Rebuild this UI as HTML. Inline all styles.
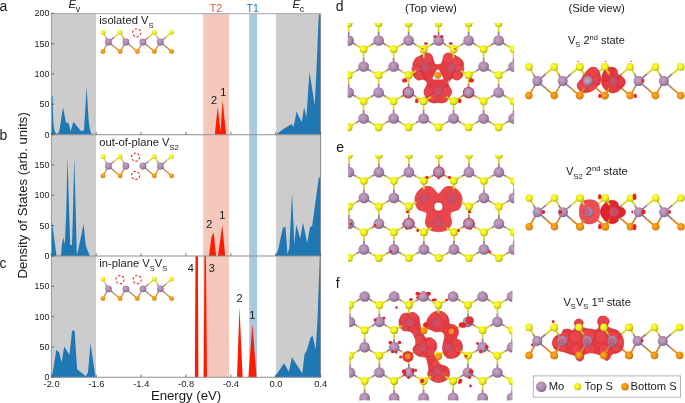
<!DOCTYPE html>
<html><head><meta charset="utf-8"><style>
html,body{margin:0;padding:0;background:#fff;width:685px;height:403px;overflow:hidden;position:relative}
svg text{font-family:"Liberation Sans", sans-serif}
svg{will-change:transform}
</style></head><body>
<svg width="685" height="403" viewBox="0 0 685 403" style="position:absolute;left:0;top:0">
<defs>
<radialGradient id="gMo" cx="0.42" cy="0.4" r="0.62"><stop offset="0" stop-color="#c6a2c4"/><stop offset="0.55" stop-color="#ae8aac"/><stop offset="0.82" stop-color="#987696"/><stop offset="0.93" stop-color="#806480"/><stop offset="1" stop-color="#664e66"/></radialGradient>
<radialGradient id="gS" cx="0.42" cy="0.4" r="0.62"><stop offset="0" stop-color="#ffff50"/><stop offset="0.5" stop-color="#f2f214"/><stop offset="0.8" stop-color="#d8d810"/><stop offset="1" stop-color="#9c9c1e"/></radialGradient>
<radialGradient id="gB" cx="0.42" cy="0.4" r="0.62"><stop offset="0" stop-color="#ffae30"/><stop offset="0.55" stop-color="#f09210"/><stop offset="0.85" stop-color="#dc840a"/><stop offset="1" stop-color="#aa6c10"/></radialGradient>
<radialGradient id="gR" cx="0.45" cy="0.4" r="0.65"><stop offset="0" stop-color="#f05a5a"/><stop offset="0.75" stop-color="#e43c40"/><stop offset="1" stop-color="#c42a30"/></radialGradient>
<clipPath id="cd"><rect x="347.7" y="22.9" width="166.4" height="108.6"/></clipPath>
<clipPath id="ce"><rect x="348.2" y="155.0" width="166.0" height="107.0"/></clipPath>
<clipPath id="cf"><rect x="349.3" y="291.0" width="163.0" height="109.2"/></clipPath>
</defs>
<rect width="685" height="403" fill="#fff"/>
<rect x="51.4" y="13.3" width="44.60" height="121.30" fill="#cccccc"/>
<rect x="276.0" y="13.3" width="44.60" height="121.30" fill="#cccccc"/>
<rect x="203.2" y="13.3" width="25.8" height="121.30" fill="#f4c8bc"/>
<rect x="249.2" y="13.3" width="7.9" height="121.30" fill="#a9cade"/>
<rect x="51.4" y="134.6" width="44.60" height="121.30" fill="#cccccc"/>
<rect x="276.0" y="134.6" width="44.60" height="121.30" fill="#cccccc"/>
<rect x="203.2" y="134.6" width="25.8" height="121.30" fill="#f4c8bc"/>
<rect x="249.2" y="134.6" width="7.9" height="121.30" fill="#a9cade"/>
<rect x="51.4" y="255.9" width="44.60" height="121.30" fill="#cccccc"/>
<rect x="276.0" y="255.9" width="44.60" height="121.30" fill="#cccccc"/>
<rect x="203.2" y="255.9" width="25.8" height="121.30" fill="#f4c8bc"/>
<rect x="249.2" y="255.9" width="7.9" height="121.30" fill="#a9cade"/>
<polygon points="51.4,134.6 51.4,94.5 52.6,96.0 52.9,110.0 53.4,123.7 54.5,130.9 56.3,133.8 58.0,133.6 59.3,130.9 60.5,123.7 62.3,111.8 63.2,107.8 64.2,113.4 66.1,123.0 68.0,122.4 69.3,125.0 70.6,131.4 73.4,121.7 81.2,131.2 84.0,130.2 86.6,86.8 88.7,121.0 89.7,128.8 91.8,134.6" fill="#1f77b4"/>
<polygon points="275.8,134.6 285.0,128.0 291.7,124.1 293.6,127.0 296.5,111.7 301.8,122.2 304.1,106.9 306.4,117.4 309.5,71.9 314.7,105.0 316.5,70.0 318.5,20.0 319.3,13.3 320.6,13.3 320.6,134.6" fill="#1f77b4"/>
<polygon points="214.8,134.6 217.7,106.9 220.5,131.6 222.6,100.2 226.1,134.6" fill="#ff1a00"/>
<polygon points="51.4,255.9 51.4,220.1 52.4,224.3 54.2,238.6 56.5,255.8 61.0,255.8 61.9,244.5 63.3,237.6 64.9,244.5 66.3,210.0 67.4,156.8 69.3,215.0 70.2,245.1 72.0,245.1 72.9,215.0 74.3,156.8 75.8,215.0 76.8,254.6 78.0,251.0 83.6,224.0 85.7,245.7 89.9,255.9" fill="#1f77b4"/>
<polygon points="275.7,255.9 278.4,248.6 282.7,228.5 285.4,226.3 287.5,254.1 289.3,248.6 292.1,192.9 294.3,244.2 296.3,224.6 300.2,238.8 303.0,222.4 307.2,243.1 310.0,227.2 312.2,225.7 318.8,177.6 320.6,177.6 320.6,255.9" fill="#1f77b4"/>
<polygon points="208.9,255.9 211.5,236.7 213.7,232.8 216.1,255.9" fill="#ff1a00"/>
<polygon points="218.0,255.9 222.3,225.2 225.2,255.9" fill="#ff1a00"/>
<polygon points="51.5,377.2 53.3,369.2 56.3,349.8 59.2,352.5 61.6,362.5 64.2,346.5 66.7,350.6 69.4,355.0 72.1,330.4 74.6,330.7 77.1,369.2 85.8,376.3 88.0,372.2 90.5,343.5 95.5,377.2" fill="#1f77b4"/>
<polygon points="274.7,377.2 276.2,375.0 284.1,363.2 288.9,371.8 291.9,357.2 302.3,373.6 304.5,354.2 306.7,350.5 310.5,337.6 312.7,336.1 315.7,349.8 317.5,320.0 319.8,255.9 320.6,255.9 320.6,377.2" fill="#1f77b4"/>
<polygon points="194.9,377.2 195.5,255.9 197.9,255.9 198.4,377.2" fill="#ff1a00"/>
<polygon points="203.7,377.2 204.5,255.9 205.9,255.9 207.0,377.2" fill="#ff1a00"/>
<polygon points="237.0,377.2 239.5,306.9 242.6,377.2" fill="#ff1a00"/>
<polygon points="248.4,377.2 252.4,323.8 256.5,377.2" fill="#ff1a00"/>
<path d="M51.4,134.6 V13.3" fill="none" stroke="#9a9a9a" stroke-width="1"/>
<path d="M320.6,134.6 V13.3" fill="none" stroke="#8a8a8a" stroke-width="1"/>
<path d="M50.9,13.6 H321.1" fill="none" stroke="#b4b4b4" stroke-width="1.1"/>
<line x1="50.9" y1="134.7" x2="321.1" y2="134.7" stroke="#8e8e8e" stroke-width="1.1"/>
<line x1="51.4" y1="134.60" x2="54.1" y2="134.60" stroke="#555" stroke-width="0.8"/>
<line x1="51.4" y1="104.27" x2="54.1" y2="104.27" stroke="#555" stroke-width="0.8"/>
<line x1="51.4" y1="73.95" x2="54.1" y2="73.95" stroke="#555" stroke-width="0.8"/>
<line x1="51.4" y1="43.62" x2="54.1" y2="43.62" stroke="#555" stroke-width="0.8"/>
<line x1="51.4" y1="13.30" x2="54.1" y2="13.30" stroke="#555" stroke-width="0.8"/>
<line x1="51.4" y1="134.6" x2="51.4" y2="131.9" stroke="#555" stroke-width="0.8"/>
<line x1="96.2" y1="134.6" x2="96.2" y2="131.9" stroke="#555" stroke-width="0.8"/>
<line x1="141.1" y1="134.6" x2="141.1" y2="131.9" stroke="#555" stroke-width="0.8"/>
<line x1="185.9" y1="134.6" x2="185.9" y2="131.9" stroke="#555" stroke-width="0.8"/>
<line x1="230.8" y1="134.6" x2="230.8" y2="131.9" stroke="#555" stroke-width="0.8"/>
<line x1="275.7" y1="134.6" x2="275.7" y2="131.9" stroke="#555" stroke-width="0.8"/>
<line x1="320.6" y1="134.6" x2="320.6" y2="131.9" stroke="#555" stroke-width="0.8"/>
<path d="M51.4,255.9 V134.6" fill="none" stroke="#9a9a9a" stroke-width="1"/>
<path d="M320.6,255.9 V134.6" fill="none" stroke="#8a8a8a" stroke-width="1"/>
<line x1="50.9" y1="256.0" x2="321.1" y2="256.0" stroke="#8e8e8e" stroke-width="1.1"/>
<line x1="51.4" y1="255.90" x2="54.1" y2="255.90" stroke="#555" stroke-width="0.8"/>
<line x1="51.4" y1="225.57" x2="54.1" y2="225.57" stroke="#555" stroke-width="0.8"/>
<line x1="51.4" y1="195.25" x2="54.1" y2="195.25" stroke="#555" stroke-width="0.8"/>
<line x1="51.4" y1="164.93" x2="54.1" y2="164.93" stroke="#555" stroke-width="0.8"/>
<line x1="51.4" y1="134.60" x2="54.1" y2="134.60" stroke="#555" stroke-width="0.8"/>
<line x1="51.4" y1="255.9" x2="51.4" y2="253.20000000000002" stroke="#555" stroke-width="0.8"/>
<line x1="96.2" y1="255.9" x2="96.2" y2="253.20000000000002" stroke="#555" stroke-width="0.8"/>
<line x1="141.1" y1="255.9" x2="141.1" y2="253.20000000000002" stroke="#555" stroke-width="0.8"/>
<line x1="185.9" y1="255.9" x2="185.9" y2="253.20000000000002" stroke="#555" stroke-width="0.8"/>
<line x1="230.8" y1="255.9" x2="230.8" y2="253.20000000000002" stroke="#555" stroke-width="0.8"/>
<line x1="275.7" y1="255.9" x2="275.7" y2="253.20000000000002" stroke="#555" stroke-width="0.8"/>
<line x1="320.6" y1="255.9" x2="320.6" y2="253.20000000000002" stroke="#555" stroke-width="0.8"/>
<path d="M51.4,377.2 V255.9" fill="none" stroke="#9a9a9a" stroke-width="1"/>
<path d="M320.6,377.2 V255.9" fill="none" stroke="#8a8a8a" stroke-width="1"/>
<line x1="50.9" y1="377.3" x2="321.1" y2="377.3" stroke="#8e8e8e" stroke-width="1.1"/>
<line x1="51.4" y1="377.20" x2="54.1" y2="377.20" stroke="#555" stroke-width="0.8"/>
<line x1="51.4" y1="346.88" x2="54.1" y2="346.88" stroke="#555" stroke-width="0.8"/>
<line x1="51.4" y1="316.55" x2="54.1" y2="316.55" stroke="#555" stroke-width="0.8"/>
<line x1="51.4" y1="286.23" x2="54.1" y2="286.23" stroke="#555" stroke-width="0.8"/>
<line x1="51.4" y1="255.90" x2="54.1" y2="255.90" stroke="#555" stroke-width="0.8"/>
<line x1="51.4" y1="377.2" x2="51.4" y2="374.5" stroke="#555" stroke-width="0.8"/>
<line x1="96.2" y1="377.2" x2="96.2" y2="374.5" stroke="#555" stroke-width="0.8"/>
<line x1="141.1" y1="377.2" x2="141.1" y2="374.5" stroke="#555" stroke-width="0.8"/>
<line x1="185.9" y1="377.2" x2="185.9" y2="374.5" stroke="#555" stroke-width="0.8"/>
<line x1="230.8" y1="377.2" x2="230.8" y2="374.5" stroke="#555" stroke-width="0.8"/>
<line x1="275.7" y1="377.2" x2="275.7" y2="374.5" stroke="#555" stroke-width="0.8"/>
<line x1="320.6" y1="377.2" x2="320.6" y2="374.5" stroke="#555" stroke-width="0.8"/>
<text x="49.4" y="137.60" font-size="9.8" text-anchor="end" fill="#1a1a1a"  textLength="4.96" lengthAdjust="spacingAndGlyphs">0</text>
<text x="49.4" y="107.27" font-size="9.8" text-anchor="end" fill="#1a1a1a"  textLength="9.92" lengthAdjust="spacingAndGlyphs">50</text>
<text x="49.4" y="76.95" font-size="9.8" text-anchor="end" fill="#1a1a1a"  textLength="14.88" lengthAdjust="spacingAndGlyphs">100</text>
<text x="49.4" y="46.62" font-size="9.8" text-anchor="end" fill="#1a1a1a"  textLength="14.88" lengthAdjust="spacingAndGlyphs">150</text>
<text x="49.4" y="16.30" font-size="9.8" text-anchor="end" fill="#1a1a1a"  textLength="14.88" lengthAdjust="spacingAndGlyphs">200</text>
<text x="49.4" y="258.90" font-size="9.8" text-anchor="end" fill="#1a1a1a"  textLength="4.96" lengthAdjust="spacingAndGlyphs">0</text>
<text x="49.4" y="228.57" font-size="9.8" text-anchor="end" fill="#1a1a1a"  textLength="9.92" lengthAdjust="spacingAndGlyphs">50</text>
<text x="49.4" y="198.25" font-size="9.8" text-anchor="end" fill="#1a1a1a"  textLength="14.88" lengthAdjust="spacingAndGlyphs">100</text>
<text x="49.4" y="167.93" font-size="9.8" text-anchor="end" fill="#1a1a1a"  textLength="14.88" lengthAdjust="spacingAndGlyphs">150</text>
<text x="49.4" y="380.20" font-size="9.8" text-anchor="end" fill="#1a1a1a"  textLength="4.96" lengthAdjust="spacingAndGlyphs">0</text>
<text x="49.4" y="349.88" font-size="9.8" text-anchor="end" fill="#1a1a1a"  textLength="9.92" lengthAdjust="spacingAndGlyphs">50</text>
<text x="49.4" y="319.55" font-size="9.8" text-anchor="end" fill="#1a1a1a"  textLength="14.88" lengthAdjust="spacingAndGlyphs">100</text>
<text x="49.4" y="289.23" font-size="9.8" text-anchor="end" fill="#1a1a1a"  textLength="14.88" lengthAdjust="spacingAndGlyphs">150</text>
<text x="51.6" y="386.5" font-size="9.4" text-anchor="middle" fill="#1a1a1a" >-2.0</text>
<text x="96.4" y="386.5" font-size="9.4" text-anchor="middle" fill="#1a1a1a" >-1.6</text>
<text x="141.3" y="386.5" font-size="9.4" text-anchor="middle" fill="#1a1a1a" >-1.4</text>
<text x="186.1" y="386.5" font-size="9.4" text-anchor="middle" fill="#1a1a1a" >-0.8</text>
<text x="231.0" y="386.5" font-size="9.4" text-anchor="middle" fill="#1a1a1a" >-0.4</text>
<text x="275.9" y="386.5" font-size="9.4" text-anchor="middle" fill="#1a1a1a" >0.0</text>
<text x="320.8" y="386.5" font-size="9.4" text-anchor="middle" fill="#1a1a1a" >0.4</text>
<text x="150.9" y="399.7" font-size="13.2" text-anchor="start" fill="#1a1a1a" >Energy (eV)</text>
<text transform="translate(27.3,278.6) rotate(-90)" font-size="13.2" fill="#1a1a1a">Density of States (arb. units)</text>
<text x="-0.6" y="11" font-size="14" text-anchor="start" fill="#1a1a1a" >a</text>
<text x="-0.6" y="139.9" font-size="14" text-anchor="start" fill="#1a1a1a" >b</text>
<text x="-0.4" y="268" font-size="14" text-anchor="start" fill="#1a1a1a" >c</text>
<text x="335.8" y="10.7" font-size="14" text-anchor="start" fill="#1a1a1a" >d</text>
<text x="336.3" y="151.5" font-size="14" text-anchor="start" fill="#1a1a1a" >e</text>
<text x="335.8" y="287.9" font-size="14" text-anchor="start" fill="#1a1a1a" >f</text>
<text x="68.6" y="8.3" font-size="11.5" font-style="italic" fill="#1a1a1a">E</text>
<text x="75.8" y="11.7" font-size="8.8" fill="#1a1a1a">v</text>
<text x="292.6" y="8.3" font-size="11.5" font-style="italic" fill="#1a1a1a">E</text>
<text x="299.7" y="11.9" font-size="9" fill="#1a1a1a">c</text>
<text x="216.0" y="11.7" font-size="10.6" text-anchor="middle" fill="#e05a34" >T2</text>
<text x="252.6" y="11.7" font-size="10.6" text-anchor="middle" fill="#1f78b4" >T1</text>
<text x="214.1" y="104.3" font-size="11" text-anchor="middle" fill="#1a1a1a" >2</text>
<text x="223.3" y="95.8" font-size="11" text-anchor="middle" fill="#1a1a1a" >1</text>
<text x="209.3" y="228.1" font-size="11" text-anchor="middle" fill="#1a1a1a" >2</text>
<text x="222.3" y="219.4" font-size="11" text-anchor="middle" fill="#1a1a1a" >1</text>
<text x="190.9" y="272.1" font-size="11" text-anchor="middle" fill="#1a1a1a" >4</text>
<text x="211.8" y="272.1" font-size="11" text-anchor="middle" fill="#1a1a1a" >3</text>
<text x="239.5" y="301.5" font-size="11" text-anchor="middle" fill="#1a1a1a" >2</text>
<text x="252.4" y="319.2" font-size="11" text-anchor="middle" fill="#1a1a1a" >1</text>
<text x="99.3" y="23.8" font-size="11.2" fill="#1a1a1a">isolated V<tspan font-size="7.6" dy="3.8">S</tspan></text>
<text x="99.25" y="146" font-size="11.2" fill="#1a1a1a">out-of-plane V<tspan font-size="7.6" dy="3.8">S2</tspan></text>
<text x="99.3" y="267" font-size="11.2" fill="#1a1a1a">in-plane V<tspan font-size="7.6" dy="3.8">S</tspan><tspan dy="-3.8">V</tspan><tspan font-size="7.6" dy="3.8">S</tspan></text>
<line x1="108.40" y1="42.00" x2="105.65" y2="37.15" stroke="#9e7e9e" stroke-width="1.3"/>
<line x1="105.65" y1="37.15" x2="102.90" y2="32.30" stroke="#d8d816" stroke-width="1.3"/>
<line x1="108.40" y1="42.00" x2="105.65" y2="46.80" stroke="#9e7e9e" stroke-width="1.3"/>
<line x1="105.65" y1="46.80" x2="102.90" y2="51.60" stroke="#dc8c10" stroke-width="1.3"/>
<line x1="108.40" y1="42.00" x2="114.25" y2="37.15" stroke="#9e7e9e" stroke-width="1.3"/>
<line x1="114.25" y1="37.15" x2="120.10" y2="32.30" stroke="#d8d816" stroke-width="1.3"/>
<line x1="108.40" y1="42.00" x2="114.25" y2="46.80" stroke="#9e7e9e" stroke-width="1.3"/>
<line x1="114.25" y1="46.80" x2="120.10" y2="51.60" stroke="#dc8c10" stroke-width="1.3"/>
<line x1="125.90" y1="42.00" x2="123.00" y2="37.15" stroke="#9e7e9e" stroke-width="1.3"/>
<line x1="123.00" y1="37.15" x2="120.10" y2="32.30" stroke="#d8d816" stroke-width="1.3"/>
<line x1="125.90" y1="42.00" x2="123.00" y2="46.80" stroke="#9e7e9e" stroke-width="1.3"/>
<line x1="123.00" y1="46.80" x2="120.10" y2="51.60" stroke="#dc8c10" stroke-width="1.3"/>
<line x1="125.90" y1="42.00" x2="131.60" y2="46.80" stroke="#9e7e9e" stroke-width="1.3"/>
<line x1="131.60" y1="46.80" x2="137.30" y2="51.60" stroke="#dc8c10" stroke-width="1.3"/>
<line x1="142.90" y1="42.00" x2="140.10" y2="46.80" stroke="#9e7e9e" stroke-width="1.3"/>
<line x1="140.10" y1="46.80" x2="137.30" y2="51.60" stroke="#dc8c10" stroke-width="1.3"/>
<line x1="142.90" y1="42.00" x2="148.65" y2="37.15" stroke="#9e7e9e" stroke-width="1.3"/>
<line x1="148.65" y1="37.15" x2="154.40" y2="32.30" stroke="#d8d816" stroke-width="1.3"/>
<line x1="142.90" y1="42.00" x2="148.65" y2="46.80" stroke="#9e7e9e" stroke-width="1.3"/>
<line x1="148.65" y1="46.80" x2="154.40" y2="51.60" stroke="#dc8c10" stroke-width="1.3"/>
<line x1="160.30" y1="42.00" x2="157.35" y2="37.15" stroke="#9e7e9e" stroke-width="1.3"/>
<line x1="157.35" y1="37.15" x2="154.40" y2="32.30" stroke="#d8d816" stroke-width="1.3"/>
<line x1="160.30" y1="42.00" x2="157.35" y2="46.80" stroke="#9e7e9e" stroke-width="1.3"/>
<line x1="157.35" y1="46.80" x2="154.40" y2="51.60" stroke="#dc8c10" stroke-width="1.3"/>
<line x1="160.30" y1="42.00" x2="165.95" y2="37.15" stroke="#9e7e9e" stroke-width="1.3"/>
<line x1="165.95" y1="37.15" x2="171.60" y2="32.30" stroke="#d8d816" stroke-width="1.3"/>
<line x1="160.30" y1="42.00" x2="165.95" y2="46.80" stroke="#9e7e9e" stroke-width="1.3"/>
<line x1="165.95" y1="46.80" x2="171.60" y2="51.60" stroke="#dc8c10" stroke-width="1.3"/>
<circle cx="102.9" cy="32.3" r="2.4" fill="url(#gS)"/>
<circle cx="102.9" cy="51.6" r="2.4" fill="url(#gB)"/>
<circle cx="120.1" cy="32.3" r="2.4" fill="url(#gS)"/>
<circle cx="120.1" cy="51.6" r="2.4" fill="url(#gB)"/>
<circle cx="137.3" cy="51.6" r="2.4" fill="url(#gB)"/>
<circle cx="154.4" cy="32.3" r="2.4" fill="url(#gS)"/>
<circle cx="154.4" cy="51.6" r="2.4" fill="url(#gB)"/>
<circle cx="171.6" cy="32.3" r="2.4" fill="url(#gS)"/>
<circle cx="171.6" cy="51.6" r="2.4" fill="url(#gB)"/>
<circle cx="108.4" cy="42.0" r="3.4" fill="url(#gMo)"/>
<circle cx="125.9" cy="42.0" r="3.4" fill="url(#gMo)"/>
<circle cx="142.9" cy="42.0" r="3.4" fill="url(#gMo)"/>
<circle cx="160.3" cy="42.0" r="3.4" fill="url(#gMo)"/>
<circle cx="136.80" cy="32.80" r="4.1" fill="none" stroke="#f02020" stroke-width="1.1" stroke-dasharray="2.3,1.9"/>
<line x1="108.40" y1="166.00" x2="105.65" y2="161.30" stroke="#9e7e9e" stroke-width="1.3"/>
<line x1="105.65" y1="161.30" x2="102.90" y2="156.60" stroke="#d8d816" stroke-width="1.3"/>
<line x1="108.40" y1="166.00" x2="105.65" y2="170.95" stroke="#9e7e9e" stroke-width="1.3"/>
<line x1="105.65" y1="170.95" x2="102.90" y2="175.90" stroke="#dc8c10" stroke-width="1.3"/>
<line x1="108.40" y1="166.00" x2="114.25" y2="161.30" stroke="#9e7e9e" stroke-width="1.3"/>
<line x1="114.25" y1="161.30" x2="120.10" y2="156.60" stroke="#d8d816" stroke-width="1.3"/>
<line x1="108.40" y1="166.00" x2="114.25" y2="170.95" stroke="#9e7e9e" stroke-width="1.3"/>
<line x1="114.25" y1="170.95" x2="120.10" y2="175.90" stroke="#dc8c10" stroke-width="1.3"/>
<line x1="125.90" y1="166.00" x2="123.00" y2="161.30" stroke="#9e7e9e" stroke-width="1.3"/>
<line x1="123.00" y1="161.30" x2="120.10" y2="156.60" stroke="#d8d816" stroke-width="1.3"/>
<line x1="125.90" y1="166.00" x2="123.00" y2="170.95" stroke="#9e7e9e" stroke-width="1.3"/>
<line x1="123.00" y1="170.95" x2="120.10" y2="175.90" stroke="#dc8c10" stroke-width="1.3"/>
<line x1="142.90" y1="166.00" x2="148.65" y2="161.30" stroke="#9e7e9e" stroke-width="1.3"/>
<line x1="148.65" y1="161.30" x2="154.40" y2="156.60" stroke="#d8d816" stroke-width="1.3"/>
<line x1="142.90" y1="166.00" x2="148.65" y2="170.95" stroke="#9e7e9e" stroke-width="1.3"/>
<line x1="148.65" y1="170.95" x2="154.40" y2="175.90" stroke="#dc8c10" stroke-width="1.3"/>
<line x1="160.30" y1="166.00" x2="157.35" y2="161.30" stroke="#9e7e9e" stroke-width="1.3"/>
<line x1="157.35" y1="161.30" x2="154.40" y2="156.60" stroke="#d8d816" stroke-width="1.3"/>
<line x1="160.30" y1="166.00" x2="157.35" y2="170.95" stroke="#9e7e9e" stroke-width="1.3"/>
<line x1="157.35" y1="170.95" x2="154.40" y2="175.90" stroke="#dc8c10" stroke-width="1.3"/>
<line x1="160.30" y1="166.00" x2="165.95" y2="161.30" stroke="#9e7e9e" stroke-width="1.3"/>
<line x1="165.95" y1="161.30" x2="171.60" y2="156.60" stroke="#d8d816" stroke-width="1.3"/>
<line x1="160.30" y1="166.00" x2="165.95" y2="170.95" stroke="#9e7e9e" stroke-width="1.3"/>
<line x1="165.95" y1="170.95" x2="171.60" y2="175.90" stroke="#dc8c10" stroke-width="1.3"/>
<circle cx="102.9" cy="156.6" r="2.4" fill="url(#gS)"/>
<circle cx="102.9" cy="175.9" r="2.4" fill="url(#gB)"/>
<circle cx="120.1" cy="156.6" r="2.4" fill="url(#gS)"/>
<circle cx="120.1" cy="175.9" r="2.4" fill="url(#gB)"/>
<circle cx="154.4" cy="156.6" r="2.4" fill="url(#gS)"/>
<circle cx="154.4" cy="175.9" r="2.4" fill="url(#gB)"/>
<circle cx="171.6" cy="156.6" r="2.4" fill="url(#gS)"/>
<circle cx="171.6" cy="175.9" r="2.4" fill="url(#gB)"/>
<circle cx="108.4" cy="166.0" r="3.4" fill="url(#gMo)"/>
<circle cx="125.9" cy="166.0" r="3.4" fill="url(#gMo)"/>
<circle cx="142.9" cy="166.0" r="3.4" fill="url(#gMo)"/>
<circle cx="160.3" cy="166.0" r="3.4" fill="url(#gMo)"/>
<circle cx="135.60" cy="157.10" r="4.1" fill="none" stroke="#f02020" stroke-width="1.1" stroke-dasharray="2.3,1.9"/>
<circle cx="135.60" cy="175.40" r="4.1" fill="none" stroke="#f02020" stroke-width="1.1" stroke-dasharray="2.3,1.9"/>
<line x1="108.40" y1="288.80" x2="105.65" y2="283.95" stroke="#9e7e9e" stroke-width="1.3"/>
<line x1="105.65" y1="283.95" x2="102.90" y2="279.10" stroke="#d8d816" stroke-width="1.3"/>
<line x1="108.40" y1="288.80" x2="105.65" y2="293.70" stroke="#9e7e9e" stroke-width="1.3"/>
<line x1="105.65" y1="293.70" x2="102.90" y2="298.60" stroke="#dc8c10" stroke-width="1.3"/>
<line x1="108.40" y1="288.80" x2="114.25" y2="293.70" stroke="#9e7e9e" stroke-width="1.3"/>
<line x1="114.25" y1="293.70" x2="120.10" y2="298.60" stroke="#dc8c10" stroke-width="1.3"/>
<line x1="125.90" y1="288.80" x2="123.00" y2="293.70" stroke="#9e7e9e" stroke-width="1.3"/>
<line x1="123.00" y1="293.70" x2="120.10" y2="298.60" stroke="#dc8c10" stroke-width="1.3"/>
<line x1="125.90" y1="288.80" x2="131.60" y2="293.70" stroke="#9e7e9e" stroke-width="1.3"/>
<line x1="131.60" y1="293.70" x2="137.30" y2="298.60" stroke="#dc8c10" stroke-width="1.3"/>
<line x1="142.90" y1="288.80" x2="140.10" y2="293.70" stroke="#9e7e9e" stroke-width="1.3"/>
<line x1="140.10" y1="293.70" x2="137.30" y2="298.60" stroke="#dc8c10" stroke-width="1.3"/>
<line x1="142.90" y1="288.80" x2="148.65" y2="283.95" stroke="#9e7e9e" stroke-width="1.3"/>
<line x1="148.65" y1="283.95" x2="154.40" y2="279.10" stroke="#d8d816" stroke-width="1.3"/>
<line x1="142.90" y1="288.80" x2="148.65" y2="293.70" stroke="#9e7e9e" stroke-width="1.3"/>
<line x1="148.65" y1="293.70" x2="154.40" y2="298.60" stroke="#dc8c10" stroke-width="1.3"/>
<line x1="160.30" y1="288.80" x2="157.35" y2="283.95" stroke="#9e7e9e" stroke-width="1.3"/>
<line x1="157.35" y1="283.95" x2="154.40" y2="279.10" stroke="#d8d816" stroke-width="1.3"/>
<line x1="160.30" y1="288.80" x2="157.35" y2="293.70" stroke="#9e7e9e" stroke-width="1.3"/>
<line x1="157.35" y1="293.70" x2="154.40" y2="298.60" stroke="#dc8c10" stroke-width="1.3"/>
<line x1="160.30" y1="288.80" x2="165.95" y2="283.95" stroke="#9e7e9e" stroke-width="1.3"/>
<line x1="165.95" y1="283.95" x2="171.60" y2="279.10" stroke="#d8d816" stroke-width="1.3"/>
<line x1="160.30" y1="288.80" x2="165.95" y2="293.70" stroke="#9e7e9e" stroke-width="1.3"/>
<line x1="165.95" y1="293.70" x2="171.60" y2="298.60" stroke="#dc8c10" stroke-width="1.3"/>
<circle cx="102.9" cy="279.1" r="2.4" fill="url(#gS)"/>
<circle cx="102.9" cy="298.6" r="2.4" fill="url(#gB)"/>
<circle cx="120.1" cy="298.6" r="2.4" fill="url(#gB)"/>
<circle cx="137.3" cy="298.6" r="2.4" fill="url(#gB)"/>
<circle cx="154.4" cy="279.1" r="2.4" fill="url(#gS)"/>
<circle cx="154.4" cy="298.6" r="2.4" fill="url(#gB)"/>
<circle cx="171.6" cy="279.1" r="2.4" fill="url(#gS)"/>
<circle cx="171.6" cy="298.6" r="2.4" fill="url(#gB)"/>
<circle cx="108.4" cy="288.8" r="3.4" fill="url(#gMo)"/>
<circle cx="125.9" cy="288.8" r="3.4" fill="url(#gMo)"/>
<circle cx="142.9" cy="288.8" r="3.4" fill="url(#gMo)"/>
<circle cx="160.3" cy="288.8" r="3.4" fill="url(#gMo)"/>
<circle cx="120.00" cy="279.60" r="4.1" fill="none" stroke="#f02020" stroke-width="1.1" stroke-dasharray="2.3,1.9"/>
<circle cx="137.20" cy="279.60" r="4.1" fill="none" stroke="#f02020" stroke-width="1.1" stroke-dasharray="2.3,1.9"/>
<g clip-path="url(#cd)">
<path d="M333.6 14.6L341.1 18.9M363.6 14.6L356.1 18.9M363.6 14.6L371.1 18.9M393.6 14.6L386.1 18.9M393.6 14.6L401.1 18.9M423.6 14.6L416.1 18.9M423.6 14.6L431.1 18.9M453.6 14.6L446.1 18.9M453.6 14.6L461.1 18.9M483.6 14.6L476.1 18.9M483.6 14.6L491.1 18.9M513.6 14.6L506.1 18.9M333.6 66.5L341.1 70.9M348.6 40.5L348.6 31.9M348.6 40.5L341.1 44.9M348.6 40.5L356.1 44.9M363.6 66.5L363.6 57.9M363.6 66.5L356.1 70.9M363.6 66.5L371.1 70.9M378.6 40.5L378.6 31.9M378.6 40.5L371.1 44.9M378.6 40.5L386.1 44.9M393.6 66.5L393.6 57.9M393.6 66.5L386.1 70.9M393.6 66.5L401.1 70.9M408.6 40.5L408.6 31.9M408.6 40.5L401.1 44.9M408.6 40.5L416.1 44.9M423.6 66.5L423.6 57.9M423.6 66.5L416.1 70.9M438.6 40.5L438.6 31.9M438.6 40.5L431.1 44.9M438.6 40.5L446.1 44.9M453.6 66.5L453.6 57.9M453.6 66.5L461.1 70.9M468.6 40.5L468.6 31.9M468.6 40.5L461.1 44.9M468.6 40.5L476.1 44.9M483.6 66.5L483.6 57.9M483.6 66.5L476.1 70.9M483.6 66.5L491.1 70.9M498.6 40.5L498.6 31.9M498.6 40.5L491.1 44.9M498.6 40.5L506.1 44.9M513.6 66.5L513.6 57.9M513.6 66.5L506.1 70.9M513.6 66.5L521.1 70.9M528.6 40.5L521.1 44.9M333.6 118.5L341.1 122.8M348.6 92.5L348.6 83.8M348.6 92.5L341.1 96.8M348.6 92.5L356.1 96.8M363.6 118.5L363.6 109.8M363.6 118.5L356.1 122.8M363.6 118.5L371.1 122.8M378.6 92.5L378.6 83.8M378.6 92.5L371.1 96.8M378.6 92.5L386.1 96.8M393.6 118.5L393.6 109.8M393.6 118.5L386.1 122.8M393.6 118.5L401.1 122.8M408.6 92.5L408.6 83.8M408.6 92.5L401.1 96.8M408.6 92.5L416.1 96.8M423.6 118.5L423.6 109.8M423.6 118.5L416.1 122.8M423.6 118.5L431.1 122.8M438.6 92.5L431.1 96.8M438.6 92.5L446.1 96.8M453.6 118.5L453.6 109.8M453.6 118.5L446.1 122.8M453.6 118.5L461.1 122.8M468.6 92.5L468.6 83.8M468.6 92.5L461.1 96.8M468.6 92.5L476.1 96.8M483.6 118.5L483.6 109.8M483.6 118.5L476.1 122.8M483.6 118.5L491.1 122.8M498.6 92.5L498.6 83.8M498.6 92.5L491.1 96.8M498.6 92.5L506.1 96.8M513.6 118.5L513.6 109.8M513.6 118.5L506.1 122.8M513.6 118.5L521.1 122.8M528.6 92.5L521.1 96.8M348.6 144.5L348.6 135.8M378.6 144.5L378.6 135.8M408.6 144.5L408.6 135.8M438.6 144.5L438.6 135.8M468.6 144.5L468.6 135.8M498.6 144.5L498.6 135.8" stroke="#9e7e9e" stroke-width="1.75" fill="none"/>
<path d="M341.1 18.9L348.6 23.2M356.1 18.9L348.6 23.2M371.1 18.9L378.6 23.2M386.1 18.9L378.6 23.2M401.1 18.9L408.6 23.2M416.1 18.9L408.6 23.2M431.1 18.9L438.6 23.2M446.1 18.9L438.6 23.2M461.1 18.9L468.6 23.2M476.1 18.9L468.6 23.2M491.1 18.9L498.6 23.2M506.1 18.9L498.6 23.2M341.1 70.9L348.6 75.2M348.6 31.9L348.6 23.2M341.1 44.9L333.6 49.2M356.1 44.9L363.6 49.2M363.6 57.9L363.6 49.2M356.1 70.9L348.6 75.2M371.1 70.9L378.6 75.2M378.6 31.9L378.6 23.2M371.1 44.9L363.6 49.2M386.1 44.9L393.6 49.2M393.6 57.9L393.6 49.2M386.1 70.9L378.6 75.2M401.1 70.9L408.6 75.2M408.6 31.9L408.6 23.2M401.1 44.9L393.6 49.2M416.1 44.9L423.6 49.2M423.6 57.9L423.6 49.2M416.1 70.9L408.6 75.2M438.6 31.9L438.6 23.2M431.1 44.9L423.6 49.2M446.1 44.9L453.6 49.2M453.6 57.9L453.6 49.2M461.1 70.9L468.6 75.2M468.6 31.9L468.6 23.2M461.1 44.9L453.6 49.2M476.1 44.9L483.6 49.2M483.6 57.9L483.6 49.2M476.1 70.9L468.6 75.2M491.1 70.9L498.6 75.2M498.6 31.9L498.6 23.2M491.1 44.9L483.6 49.2M506.1 44.9L513.6 49.2M513.6 57.9L513.6 49.2M506.1 70.9L498.6 75.2M521.1 70.9L528.6 75.2M521.1 44.9L513.6 49.2M341.1 122.8L348.6 127.2M348.6 83.8L348.6 75.2M341.1 96.8L333.6 101.2M356.1 96.8L363.6 101.2M363.6 109.8L363.6 101.2M356.1 122.8L348.6 127.2M371.1 122.8L378.6 127.2M378.6 83.8L378.6 75.2M371.1 96.8L363.6 101.2M386.1 96.8L393.6 101.2M393.6 109.8L393.6 101.2M386.1 122.8L378.6 127.2M401.1 122.8L408.6 127.2M408.6 83.8L408.6 75.2M401.1 96.8L393.6 101.2M416.1 96.8L423.6 101.2M423.6 109.8L423.6 101.2M416.1 122.8L408.6 127.2M431.1 122.8L438.6 127.2M431.1 96.8L423.6 101.2M446.1 96.8L453.6 101.2M453.6 109.8L453.6 101.2M446.1 122.8L438.6 127.2M461.1 122.8L468.6 127.2M468.6 83.8L468.6 75.2M461.1 96.8L453.6 101.2M476.1 96.8L483.6 101.2M483.6 109.8L483.6 101.2M476.1 122.8L468.6 127.2M491.1 122.8L498.6 127.2M498.6 83.8L498.6 75.2M491.1 96.8L483.6 101.2M506.1 96.8L513.6 101.2M513.6 109.8L513.6 101.2M506.1 122.8L498.6 127.2M521.1 122.8L528.6 127.2M521.1 96.8L513.6 101.2M348.6 135.8L348.6 127.2M378.6 135.8L378.6 127.2M408.6 135.8L408.6 127.2M438.6 135.8L438.6 127.2M468.6 135.8L468.6 127.2M498.6 135.8L498.6 127.2" stroke="#d8d816" stroke-width="1.75" fill="none"/>
<circle cx="498.6" cy="23.2" r="3.9" fill="url(#gS)"/>
<circle cx="408.6" cy="127.2" r="3.9" fill="url(#gS)"/>
<circle cx="498.6" cy="127.2" r="3.9" fill="url(#gS)"/>
<circle cx="483.6" cy="101.2" r="3.9" fill="url(#gS)"/>
<circle cx="408.6" cy="75.2" r="3.9" fill="url(#gS)"/>
<circle cx="348.6" cy="23.2" r="3.9" fill="url(#gS)"/>
<circle cx="438.6" cy="23.2" r="3.9" fill="url(#gS)"/>
<circle cx="423.6" cy="49.2" r="3.9" fill="url(#gS)"/>
<circle cx="498.6" cy="75.2" r="3.9" fill="url(#gS)"/>
<circle cx="513.6" cy="49.2" r="3.9" fill="url(#gS)"/>
<circle cx="348.6" cy="127.2" r="3.9" fill="url(#gS)"/>
<circle cx="438.6" cy="127.2" r="3.9" fill="url(#gS)"/>
<circle cx="423.6" cy="101.2" r="3.9" fill="url(#gS)"/>
<circle cx="513.6" cy="101.2" r="3.9" fill="url(#gS)"/>
<circle cx="363.6" cy="49.2" r="3.9" fill="url(#gS)"/>
<circle cx="363.6" cy="101.2" r="3.9" fill="url(#gS)"/>
<circle cx="348.6" cy="75.2" r="3.9" fill="url(#gS)"/>
<circle cx="453.6" cy="49.2" r="3.9" fill="url(#gS)"/>
<circle cx="378.6" cy="23.2" r="3.9" fill="url(#gS)"/>
<circle cx="453.6" cy="101.2" r="3.9" fill="url(#gS)"/>
<circle cx="468.6" cy="23.2" r="3.9" fill="url(#gS)"/>
<circle cx="378.6" cy="127.2" r="3.9" fill="url(#gS)"/>
<circle cx="468.6" cy="127.2" r="3.9" fill="url(#gS)"/>
<circle cx="393.6" cy="49.2" r="3.9" fill="url(#gS)"/>
<circle cx="393.6" cy="101.2" r="3.9" fill="url(#gS)"/>
<circle cx="408.6" cy="23.2" r="3.9" fill="url(#gS)"/>
<circle cx="378.6" cy="75.2" r="3.9" fill="url(#gS)"/>
<circle cx="468.6" cy="75.2" r="3.9" fill="url(#gS)"/>
<circle cx="483.6" cy="49.2" r="3.9" fill="url(#gS)"/>
<circle cx="348.6" cy="40.5" r="5.35" fill="url(#gMo)"/>
<circle cx="363.6" cy="66.5" r="5.35" fill="url(#gMo)"/>
<circle cx="378.6" cy="40.5" r="5.35" fill="url(#gMo)"/>
<circle cx="393.6" cy="66.5" r="5.35" fill="url(#gMo)"/>
<circle cx="408.6" cy="40.5" r="5.35" fill="url(#gMo)"/>
<circle cx="423.6" cy="66.5" r="5.35" fill="url(#gMo)"/>
<circle cx="438.6" cy="40.5" r="5.35" fill="url(#gMo)"/>
<circle cx="453.6" cy="66.5" r="5.35" fill="url(#gMo)"/>
<circle cx="468.6" cy="40.5" r="5.35" fill="url(#gMo)"/>
<circle cx="483.6" cy="66.5" r="5.35" fill="url(#gMo)"/>
<circle cx="498.6" cy="40.5" r="5.35" fill="url(#gMo)"/>
<circle cx="513.6" cy="66.5" r="5.35" fill="url(#gMo)"/>
<circle cx="348.6" cy="92.5" r="5.35" fill="url(#gMo)"/>
<circle cx="363.6" cy="118.5" r="5.35" fill="url(#gMo)"/>
<circle cx="378.6" cy="92.5" r="5.35" fill="url(#gMo)"/>
<circle cx="393.6" cy="118.5" r="5.35" fill="url(#gMo)"/>
<circle cx="408.6" cy="92.5" r="5.35" fill="url(#gMo)"/>
<circle cx="423.6" cy="118.5" r="5.35" fill="url(#gMo)"/>
<circle cx="438.6" cy="92.5" r="5.35" fill="url(#gMo)"/>
<circle cx="453.6" cy="118.5" r="5.35" fill="url(#gMo)"/>
<circle cx="468.6" cy="92.5" r="5.35" fill="url(#gMo)"/>
<circle cx="483.6" cy="118.5" r="5.35" fill="url(#gMo)"/>
<circle cx="498.6" cy="92.5" r="5.35" fill="url(#gMo)"/>
<circle cx="513.6" cy="118.5" r="5.35" fill="url(#gMo)"/>
</g>
<g clip-path="url(#ce)">
<path d="M333.9 146.5L341.4 150.8M363.9 146.5L356.4 150.8M363.9 146.5L371.4 150.8M393.9 146.5L386.4 150.8M393.9 146.5L401.4 150.8M423.9 146.5L416.4 150.8M423.9 146.5L431.4 150.8M453.9 146.5L446.4 150.8M453.9 146.5L461.4 150.8M483.9 146.5L476.4 150.8M483.9 146.5L491.4 150.8M513.9 146.5L506.4 150.8M333.9 197.9L341.4 202.2M348.9 172.2L348.9 163.6M348.9 172.2L341.4 176.5M348.9 172.2L356.4 176.5M363.9 197.9L363.9 189.3M363.9 197.9L356.4 202.2M363.9 197.9L371.4 202.2M378.9 172.2L378.9 163.6M378.9 172.2L371.4 176.5M378.9 172.2L386.4 176.5M393.9 197.9L393.9 189.3M393.9 197.9L386.4 202.2M393.9 197.9L401.4 202.2M408.9 172.2L408.9 163.6M408.9 172.2L401.4 176.5M408.9 172.2L416.4 176.5M423.9 197.9L423.9 189.3M423.9 197.9L416.4 202.2M438.9 172.2L438.9 163.6M438.9 172.2L431.4 176.5M438.9 172.2L446.4 176.5M453.9 197.9L453.9 189.3M453.9 197.9L461.4 202.2M468.9 172.2L468.9 163.6M468.9 172.2L461.4 176.5M468.9 172.2L476.4 176.5M483.9 197.9L483.9 189.3M483.9 197.9L476.4 202.2M483.9 197.9L491.4 202.2M498.9 172.2L498.9 163.6M498.9 172.2L491.4 176.5M498.9 172.2L506.4 176.5M513.9 197.9L513.9 189.3M513.9 197.9L506.4 202.2M513.9 197.9L521.4 202.2M528.9 172.2L521.4 176.5M333.9 249.4L341.4 253.7M348.9 223.6L348.9 215.1M348.9 223.6L341.4 227.9M348.9 223.6L356.4 227.9M363.9 249.4L363.9 240.8M363.9 249.4L356.4 253.7M363.9 249.4L371.4 253.7M378.9 223.6L378.9 215.1M378.9 223.6L371.4 227.9M378.9 223.6L386.4 227.9M393.9 249.4L393.9 240.8M393.9 249.4L386.4 253.7M393.9 249.4L401.4 253.7M408.9 223.6L408.9 215.1M408.9 223.6L401.4 227.9M408.9 223.6L416.4 227.9M423.9 249.4L423.9 240.8M423.9 249.4L416.4 253.7M423.9 249.4L431.4 253.7M438.9 223.6L431.4 227.9M438.9 223.6L446.4 227.9M453.9 249.4L453.9 240.8M453.9 249.4L446.4 253.7M453.9 249.4L461.4 253.7M468.9 223.6L468.9 215.1M468.9 223.6L461.4 227.9M468.9 223.6L476.4 227.9M483.9 249.4L483.9 240.8M483.9 249.4L476.4 253.7M483.9 249.4L491.4 253.7M498.9 223.6L498.9 215.1M498.9 223.6L491.4 227.9M498.9 223.6L506.4 227.9M513.9 249.4L513.9 240.8M513.9 249.4L506.4 253.7M513.9 249.4L521.4 253.7M528.9 223.6L521.4 227.9M348.9 275.1L348.9 266.5M378.9 275.1L378.9 266.5M408.9 275.1L408.9 266.5M438.9 275.1L438.9 266.5M468.9 275.1L468.9 266.5M498.9 275.1L498.9 266.5" stroke="#9e7e9e" stroke-width="1.75" fill="none"/>
<path d="M341.4 150.8L348.9 155.1M356.4 150.8L348.9 155.1M371.4 150.8L378.9 155.1M386.4 150.8L378.9 155.1M401.4 150.8L408.9 155.1M416.4 150.8L408.9 155.1M431.4 150.8L438.9 155.1M446.4 150.8L438.9 155.1M461.4 150.8L468.9 155.1M476.4 150.8L468.9 155.1M491.4 150.8L498.9 155.1M506.4 150.8L498.9 155.1M341.4 202.2L348.9 206.5M348.9 163.6L348.9 155.1M341.4 176.5L333.9 180.8M356.4 176.5L363.9 180.8M363.9 189.3L363.9 180.8M356.4 202.2L348.9 206.5M371.4 202.2L378.9 206.5M378.9 163.6L378.9 155.1M371.4 176.5L363.9 180.8M386.4 176.5L393.9 180.8M393.9 189.3L393.9 180.8M386.4 202.2L378.9 206.5M401.4 202.2L408.9 206.5M408.9 163.6L408.9 155.1M401.4 176.5L393.9 180.8M416.4 176.5L423.9 180.8M423.9 189.3L423.9 180.8M416.4 202.2L408.9 206.5M438.9 163.6L438.9 155.1M431.4 176.5L423.9 180.8M446.4 176.5L453.9 180.8M453.9 189.3L453.9 180.8M461.4 202.2L468.9 206.5M468.9 163.6L468.9 155.1M461.4 176.5L453.9 180.8M476.4 176.5L483.9 180.8M483.9 189.3L483.9 180.8M476.4 202.2L468.9 206.5M491.4 202.2L498.9 206.5M498.9 163.6L498.9 155.1M491.4 176.5L483.9 180.8M506.4 176.5L513.9 180.8M513.9 189.3L513.9 180.8M506.4 202.2L498.9 206.5M521.4 202.2L528.9 206.5M521.4 176.5L513.9 180.8M341.4 253.7L348.9 257.9M348.9 215.1L348.9 206.5M341.4 227.9L333.9 232.2M356.4 227.9L363.9 232.2M363.9 240.8L363.9 232.2M356.4 253.7L348.9 257.9M371.4 253.7L378.9 257.9M378.9 215.1L378.9 206.5M371.4 227.9L363.9 232.2M386.4 227.9L393.9 232.2M393.9 240.8L393.9 232.2M386.4 253.7L378.9 257.9M401.4 253.7L408.9 257.9M408.9 215.1L408.9 206.5M401.4 227.9L393.9 232.2M416.4 227.9L423.9 232.2M423.9 240.8L423.9 232.2M416.4 253.7L408.9 257.9M431.4 253.7L438.9 257.9M431.4 227.9L423.9 232.2M446.4 227.9L453.9 232.2M453.9 240.8L453.9 232.2M446.4 253.7L438.9 257.9M461.4 253.7L468.9 257.9M468.9 215.1L468.9 206.5M461.4 227.9L453.9 232.2M476.4 227.9L483.9 232.2M483.9 240.8L483.9 232.2M476.4 253.7L468.9 257.9M491.4 253.7L498.9 257.9M498.9 215.1L498.9 206.5M491.4 227.9L483.9 232.2M506.4 227.9L513.9 232.2M513.9 240.8L513.9 232.2M506.4 253.7L498.9 257.9M521.4 253.7L528.9 257.9M521.4 227.9L513.9 232.2M348.9 266.5L348.9 257.9M378.9 266.5L378.9 257.9M408.9 266.5L408.9 257.9M438.9 266.5L438.9 257.9M468.9 266.5L468.9 257.9M498.9 266.5L498.9 257.9" stroke="#d8d816" stroke-width="1.75" fill="none"/>
<circle cx="438.9" cy="155.1" r="3.9" fill="url(#gS)"/>
<circle cx="423.9" cy="180.8" r="3.9" fill="url(#gS)"/>
<circle cx="513.9" cy="180.8" r="3.9" fill="url(#gS)"/>
<circle cx="408.9" cy="257.9" r="3.9" fill="url(#gS)"/>
<circle cx="468.9" cy="206.5" r="3.9" fill="url(#gS)"/>
<circle cx="378.9" cy="155.1" r="3.9" fill="url(#gS)"/>
<circle cx="393.9" cy="232.2" r="3.9" fill="url(#gS)"/>
<circle cx="483.9" cy="232.2" r="3.9" fill="url(#gS)"/>
<circle cx="498.9" cy="257.9" r="3.9" fill="url(#gS)"/>
<circle cx="363.9" cy="180.8" r="3.9" fill="url(#gS)"/>
<circle cx="453.9" cy="180.8" r="3.9" fill="url(#gS)"/>
<circle cx="348.9" cy="257.9" r="3.9" fill="url(#gS)"/>
<circle cx="408.9" cy="206.5" r="3.9" fill="url(#gS)"/>
<circle cx="468.9" cy="155.1" r="3.9" fill="url(#gS)"/>
<circle cx="423.9" cy="232.2" r="3.9" fill="url(#gS)"/>
<circle cx="513.9" cy="232.2" r="3.9" fill="url(#gS)"/>
<circle cx="438.9" cy="257.9" r="3.9" fill="url(#gS)"/>
<circle cx="498.9" cy="206.5" r="3.9" fill="url(#gS)"/>
<circle cx="348.9" cy="206.5" r="3.9" fill="url(#gS)"/>
<circle cx="408.9" cy="155.1" r="3.9" fill="url(#gS)"/>
<circle cx="378.9" cy="257.9" r="3.9" fill="url(#gS)"/>
<circle cx="363.9" cy="232.2" r="3.9" fill="url(#gS)"/>
<circle cx="453.9" cy="232.2" r="3.9" fill="url(#gS)"/>
<circle cx="393.9" cy="180.8" r="3.9" fill="url(#gS)"/>
<circle cx="483.9" cy="180.8" r="3.9" fill="url(#gS)"/>
<circle cx="498.9" cy="155.1" r="3.9" fill="url(#gS)"/>
<circle cx="348.9" cy="155.1" r="3.9" fill="url(#gS)"/>
<circle cx="468.9" cy="257.9" r="3.9" fill="url(#gS)"/>
<circle cx="378.9" cy="206.5" r="3.9" fill="url(#gS)"/>
<circle cx="348.9" cy="172.2" r="5.35" fill="url(#gMo)"/>
<circle cx="363.9" cy="197.9" r="5.35" fill="url(#gMo)"/>
<circle cx="378.9" cy="172.2" r="5.35" fill="url(#gMo)"/>
<circle cx="393.9" cy="197.9" r="5.35" fill="url(#gMo)"/>
<circle cx="408.9" cy="172.2" r="5.35" fill="url(#gMo)"/>
<circle cx="423.9" cy="197.9" r="5.35" fill="url(#gMo)"/>
<circle cx="438.9" cy="172.2" r="5.35" fill="url(#gMo)"/>
<circle cx="453.9" cy="197.9" r="5.35" fill="url(#gMo)"/>
<circle cx="468.9" cy="172.2" r="5.35" fill="url(#gMo)"/>
<circle cx="483.9" cy="197.9" r="5.35" fill="url(#gMo)"/>
<circle cx="498.9" cy="172.2" r="5.35" fill="url(#gMo)"/>
<circle cx="513.9" cy="197.9" r="5.35" fill="url(#gMo)"/>
<circle cx="348.9" cy="223.6" r="5.35" fill="url(#gMo)"/>
<circle cx="363.9" cy="249.4" r="5.35" fill="url(#gMo)"/>
<circle cx="378.9" cy="223.6" r="5.35" fill="url(#gMo)"/>
<circle cx="393.9" cy="249.4" r="5.35" fill="url(#gMo)"/>
<circle cx="408.9" cy="223.6" r="5.35" fill="url(#gMo)"/>
<circle cx="423.9" cy="249.4" r="5.35" fill="url(#gMo)"/>
<circle cx="438.9" cy="223.6" r="5.35" fill="url(#gMo)"/>
<circle cx="453.9" cy="249.4" r="5.35" fill="url(#gMo)"/>
<circle cx="468.9" cy="223.6" r="5.35" fill="url(#gMo)"/>
<circle cx="483.9" cy="249.4" r="5.35" fill="url(#gMo)"/>
<circle cx="498.9" cy="223.6" r="5.35" fill="url(#gMo)"/>
<circle cx="513.9" cy="249.4" r="5.35" fill="url(#gMo)"/>
</g>
<g clip-path="url(#cf)">
<path d="M335.1 296.5L342.5 300.7M364.6 296.5L364.6 288.0M364.6 296.5L357.2 300.7M364.6 296.5L372.0 300.7M394.1 296.5L394.1 288.0M394.1 296.5L386.7 300.7M394.1 296.5L401.5 300.7M423.6 296.5L423.6 288.0M423.6 296.5L416.2 300.7M423.6 296.5L431.0 300.7M453.1 296.5L453.1 288.0M453.1 296.5L445.7 300.7M453.1 296.5L460.5 300.7M482.6 296.5L482.6 288.0M482.6 296.5L475.2 300.7M482.6 296.5L490.0 300.7M512.1 296.5L512.1 288.0M512.1 296.5L504.7 300.7M512.1 296.5L519.5 300.7M335.1 347.2L342.5 351.4M349.9 321.8L349.9 313.4M349.9 321.8L342.5 326.0M349.9 321.8L357.2 326.0M364.6 347.2L364.6 338.7M364.6 347.2L357.2 351.4M364.6 347.2L372.0 351.4M379.4 321.8L379.4 313.4M379.4 321.8L372.0 326.0M379.4 321.8L386.7 326.0M394.1 347.2L394.1 338.7M394.1 347.2L386.7 351.4M394.1 347.2L401.5 351.4M408.9 321.8L408.9 313.4M408.9 321.8L401.5 326.0M408.9 321.8L416.2 326.0M423.6 347.2L423.6 338.7M423.6 347.2L416.2 351.4M423.6 347.2L431.0 351.4M438.4 321.8L438.4 313.4M438.4 321.8L431.0 326.0M438.4 321.8L445.7 326.0M453.1 347.2L453.1 338.7M453.1 347.2L445.7 351.4M453.1 347.2L460.5 351.4M467.9 321.8L467.9 313.4M467.9 321.8L460.5 326.0M467.9 321.8L475.2 326.0M482.6 347.2L482.6 338.7M482.6 347.2L475.2 351.4M482.6 347.2L490.0 351.4M497.4 321.8L497.4 313.4M497.4 321.8L490.0 326.0M497.4 321.8L504.7 326.0M512.1 347.2L512.1 338.7M512.1 347.2L504.7 351.4M512.1 347.2L519.5 351.4M526.9 321.8L519.5 326.0M349.9 372.5L349.9 364.1M349.9 372.5L342.5 376.7M349.9 372.5L357.2 376.7M364.6 397.9L364.6 389.4M364.6 397.9L357.2 402.1M364.6 397.9L372.0 402.1M379.4 372.5L379.4 364.1M379.4 372.5L372.0 376.7M379.4 372.5L386.7 376.7M394.1 397.9L394.1 389.4M394.1 397.9L386.7 402.1M394.1 397.9L401.5 402.1M408.9 372.5L408.9 364.1M408.9 372.5L401.5 376.7M408.9 372.5L416.2 376.7M423.6 397.9L423.6 389.4M423.6 397.9L416.2 402.1M423.6 397.9L431.0 402.1M438.4 372.5L438.4 364.1M438.4 372.5L431.0 376.7M438.4 372.5L445.7 376.7M453.1 397.9L453.1 389.4M453.1 397.9L445.7 402.1M453.1 397.9L460.5 402.1M467.9 372.5L467.9 364.1M467.9 372.5L460.5 376.7M467.9 372.5L475.2 376.7M482.6 397.9L482.6 389.4M482.6 397.9L475.2 402.1M482.6 397.9L490.0 402.1M497.4 372.5L497.4 364.1M497.4 372.5L490.0 376.7M497.4 372.5L504.7 376.7M512.1 397.9L512.1 389.4M512.1 397.9L504.7 402.1M512.1 397.9L519.5 402.1M526.9 372.5L519.5 376.7" stroke="#9e7e9e" stroke-width="1.75" fill="none"/>
<path d="M342.5 300.7L349.9 304.9M364.6 288.0L364.6 279.6M357.2 300.7L349.9 304.9M372.0 300.7L379.4 304.9M394.1 288.0L394.1 279.6M386.7 300.7L379.4 304.9M401.5 300.7L408.9 304.9M423.6 288.0L423.6 279.6M416.2 300.7L408.9 304.9M431.0 300.7L438.4 304.9M453.1 288.0L453.1 279.6M445.7 300.7L438.4 304.9M460.5 300.7L467.9 304.9M482.6 288.0L482.6 279.6M475.2 300.7L467.9 304.9M490.0 300.7L497.4 304.9M512.1 288.0L512.1 279.6M504.7 300.7L497.4 304.9M519.5 300.7L526.9 304.9M342.5 351.4L349.9 355.6M349.9 313.4L349.9 304.9M342.5 326.0L335.1 330.2M357.2 326.0L364.6 330.2M364.6 338.7L364.6 330.2M357.2 351.4L349.9 355.6M372.0 351.4L379.4 355.6M379.4 313.4L379.4 304.9M372.0 326.0L364.6 330.2M386.7 326.0L394.1 330.2M394.1 338.7L394.1 330.2M386.7 351.4L379.4 355.6M401.5 351.4L408.9 355.6M408.9 313.4L408.9 304.9M401.5 326.0L394.1 330.2M416.2 326.0L423.6 330.2M423.6 338.7L423.6 330.2M416.2 351.4L408.9 355.6M431.0 351.4L438.4 355.6M438.4 313.4L438.4 304.9M431.0 326.0L423.6 330.2M445.7 326.0L453.1 330.2M453.1 338.7L453.1 330.2M445.7 351.4L438.4 355.6M460.5 351.4L467.9 355.6M467.9 313.4L467.9 304.9M460.5 326.0L453.1 330.2M475.2 326.0L482.6 330.2M482.6 338.7L482.6 330.2M475.2 351.4L467.9 355.6M490.0 351.4L497.4 355.6M497.4 313.4L497.4 304.9M490.0 326.0L482.6 330.2M504.7 326.0L512.1 330.2M512.1 338.7L512.1 330.2M504.7 351.4L497.4 355.6M519.5 351.4L526.9 355.6M519.5 326.0L512.1 330.2M349.9 364.1L349.9 355.6M342.5 376.7L335.1 380.9M357.2 376.7L364.6 380.9M364.6 389.4L364.6 380.9M357.2 402.1L349.9 406.3M372.0 402.1L379.4 406.3M379.4 364.1L379.4 355.6M372.0 376.7L364.6 380.9M386.7 376.7L394.1 380.9M394.1 389.4L394.1 380.9M386.7 402.1L379.4 406.3M401.5 402.1L408.9 406.3M408.9 364.1L408.9 355.6M401.5 376.7L394.1 380.9M416.2 376.7L423.6 380.9M423.6 389.4L423.6 380.9M416.2 402.1L408.9 406.3M431.0 402.1L438.4 406.3M438.4 364.1L438.4 355.6M431.0 376.7L423.6 380.9M445.7 376.7L453.1 380.9M453.1 389.4L453.1 380.9M445.7 402.1L438.4 406.3M460.5 402.1L467.9 406.3M467.9 364.1L467.9 355.6M460.5 376.7L453.1 380.9M475.2 376.7L482.6 380.9M482.6 389.4L482.6 380.9M475.2 402.1L467.9 406.3M490.0 402.1L497.4 406.3M497.4 364.1L497.4 355.6M490.0 376.7L482.6 380.9M504.7 376.7L512.1 380.9M512.1 389.4L512.1 380.9M504.7 402.1L497.4 406.3M519.5 402.1L526.9 406.3M519.5 376.7L512.1 380.9" stroke="#d8d816" stroke-width="1.75" fill="none"/>
<circle cx="423.6" cy="330.2" r="3.9" fill="url(#gS)"/>
<circle cx="379.4" cy="304.9" r="3.9" fill="url(#gS)"/>
<circle cx="423.6" cy="380.9" r="3.9" fill="url(#gS)"/>
<circle cx="467.9" cy="355.6" r="3.9" fill="url(#gS)"/>
<circle cx="482.6" cy="330.2" r="3.9" fill="url(#gS)"/>
<circle cx="438.4" cy="304.9" r="3.9" fill="url(#gS)"/>
<circle cx="482.6" cy="380.9" r="3.9" fill="url(#gS)"/>
<circle cx="349.9" cy="304.9" r="3.9" fill="url(#gS)"/>
<circle cx="379.4" cy="355.6" r="3.9" fill="url(#gS)"/>
<circle cx="497.4" cy="304.9" r="3.9" fill="url(#gS)"/>
<circle cx="394.1" cy="330.2" r="3.9" fill="url(#gS)"/>
<circle cx="408.9" cy="304.9" r="3.9" fill="url(#gS)"/>
<circle cx="453.1" cy="330.2" r="3.9" fill="url(#gS)"/>
<circle cx="394.1" cy="380.9" r="3.9" fill="url(#gS)"/>
<circle cx="438.4" cy="355.6" r="3.9" fill="url(#gS)"/>
<circle cx="453.1" cy="380.9" r="3.9" fill="url(#gS)"/>
<circle cx="467.9" cy="304.9" r="3.9" fill="url(#gS)"/>
<circle cx="364.6" cy="330.2" r="3.9" fill="url(#gS)"/>
<circle cx="349.9" cy="355.6" r="3.9" fill="url(#gS)"/>
<circle cx="364.6" cy="380.9" r="3.9" fill="url(#gS)"/>
<circle cx="512.1" cy="330.2" r="3.9" fill="url(#gS)"/>
<circle cx="497.4" cy="355.6" r="3.9" fill="url(#gS)"/>
<circle cx="512.1" cy="380.9" r="3.9" fill="url(#gS)"/>
<circle cx="408.9" cy="355.6" r="3.9" fill="url(#gS)"/>
<circle cx="364.6" cy="296.5" r="5.35" fill="url(#gMo)"/>
<circle cx="394.1" cy="296.5" r="5.35" fill="url(#gMo)"/>
<circle cx="423.6" cy="296.5" r="5.35" fill="url(#gMo)"/>
<circle cx="453.1" cy="296.5" r="5.35" fill="url(#gMo)"/>
<circle cx="482.6" cy="296.5" r="5.35" fill="url(#gMo)"/>
<circle cx="512.1" cy="296.5" r="5.35" fill="url(#gMo)"/>
<circle cx="349.9" cy="321.8" r="5.35" fill="url(#gMo)"/>
<circle cx="364.6" cy="347.2" r="5.35" fill="url(#gMo)"/>
<circle cx="379.4" cy="321.8" r="5.35" fill="url(#gMo)"/>
<circle cx="394.1" cy="347.2" r="5.35" fill="url(#gMo)"/>
<circle cx="408.9" cy="321.8" r="5.35" fill="url(#gMo)"/>
<circle cx="423.6" cy="347.2" r="5.35" fill="url(#gMo)"/>
<circle cx="438.4" cy="321.8" r="5.35" fill="url(#gMo)"/>
<circle cx="453.1" cy="347.2" r="5.35" fill="url(#gMo)"/>
<circle cx="467.9" cy="321.8" r="5.35" fill="url(#gMo)"/>
<circle cx="482.6" cy="347.2" r="5.35" fill="url(#gMo)"/>
<circle cx="497.4" cy="321.8" r="5.35" fill="url(#gMo)"/>
<circle cx="512.1" cy="347.2" r="5.35" fill="url(#gMo)"/>
<circle cx="349.9" cy="372.5" r="5.35" fill="url(#gMo)"/>
<circle cx="364.6" cy="397.9" r="5.35" fill="url(#gMo)"/>
<circle cx="379.4" cy="372.5" r="5.35" fill="url(#gMo)"/>
<circle cx="394.1" cy="397.9" r="5.35" fill="url(#gMo)"/>
<circle cx="408.9" cy="372.5" r="5.35" fill="url(#gMo)"/>
<circle cx="423.6" cy="397.9" r="5.35" fill="url(#gMo)"/>
<circle cx="438.4" cy="372.5" r="5.35" fill="url(#gMo)"/>
<circle cx="453.1" cy="397.9" r="5.35" fill="url(#gMo)"/>
<circle cx="467.9" cy="372.5" r="5.35" fill="url(#gMo)"/>
<circle cx="482.6" cy="397.9" r="5.35" fill="url(#gMo)"/>
<circle cx="497.4" cy="372.5" r="5.35" fill="url(#gMo)"/>
<circle cx="512.1" cy="397.9" r="5.35" fill="url(#gMo)"/>
</g>
<line x1="537.40" y1="81.10" x2="533.15" y2="74.00" stroke="#9e7e9e" stroke-width="1.75"/>
<line x1="533.15" y1="74.00" x2="528.90" y2="66.90" stroke="#d8d816" stroke-width="1.75"/>
<line x1="537.40" y1="81.10" x2="533.15" y2="88.35" stroke="#9e7e9e" stroke-width="1.75"/>
<line x1="533.15" y1="88.35" x2="528.90" y2="95.60" stroke="#dc8c10" stroke-width="1.75"/>
<line x1="537.40" y1="81.10" x2="545.80" y2="74.00" stroke="#9e7e9e" stroke-width="1.75"/>
<line x1="545.80" y1="74.00" x2="554.20" y2="66.90" stroke="#d8d816" stroke-width="1.75"/>
<line x1="537.40" y1="81.10" x2="545.80" y2="88.35" stroke="#9e7e9e" stroke-width="1.75"/>
<line x1="545.80" y1="88.35" x2="554.20" y2="95.60" stroke="#dc8c10" stroke-width="1.75"/>
<line x1="562.70" y1="81.10" x2="558.45" y2="74.00" stroke="#9e7e9e" stroke-width="1.75"/>
<line x1="558.45" y1="74.00" x2="554.20" y2="66.90" stroke="#d8d816" stroke-width="1.75"/>
<line x1="562.70" y1="81.10" x2="558.45" y2="88.35" stroke="#9e7e9e" stroke-width="1.75"/>
<line x1="558.45" y1="88.35" x2="554.20" y2="95.60" stroke="#dc8c10" stroke-width="1.75"/>
<line x1="562.70" y1="81.10" x2="571.10" y2="74.00" stroke="#9e7e9e" stroke-width="1.75"/>
<line x1="571.10" y1="74.00" x2="579.50" y2="66.90" stroke="#d8d816" stroke-width="1.75"/>
<line x1="562.70" y1="81.10" x2="571.10" y2="88.35" stroke="#9e7e9e" stroke-width="1.75"/>
<line x1="571.10" y1="88.35" x2="579.50" y2="95.60" stroke="#dc8c10" stroke-width="1.75"/>
<line x1="588.00" y1="81.10" x2="583.75" y2="74.00" stroke="#9e7e9e" stroke-width="1.75"/>
<line x1="583.75" y1="74.00" x2="579.50" y2="66.90" stroke="#d8d816" stroke-width="1.75"/>
<line x1="588.00" y1="81.10" x2="583.75" y2="88.35" stroke="#9e7e9e" stroke-width="1.75"/>
<line x1="583.75" y1="88.35" x2="579.50" y2="95.60" stroke="#dc8c10" stroke-width="1.75"/>
<line x1="588.00" y1="81.10" x2="596.40" y2="74.00" stroke="#9e7e9e" stroke-width="1.75"/>
<line x1="596.40" y1="74.00" x2="604.80" y2="66.90" stroke="#d8d816" stroke-width="1.75"/>
<line x1="588.00" y1="81.10" x2="596.40" y2="88.35" stroke="#9e7e9e" stroke-width="1.75"/>
<line x1="596.40" y1="88.35" x2="604.80" y2="95.60" stroke="#dc8c10" stroke-width="1.75"/>
<line x1="613.30" y1="81.10" x2="609.05" y2="74.00" stroke="#9e7e9e" stroke-width="1.75"/>
<line x1="609.05" y1="74.00" x2="604.80" y2="66.90" stroke="#d8d816" stroke-width="1.75"/>
<line x1="613.30" y1="81.10" x2="609.05" y2="88.35" stroke="#9e7e9e" stroke-width="1.75"/>
<line x1="609.05" y1="88.35" x2="604.80" y2="95.60" stroke="#dc8c10" stroke-width="1.75"/>
<line x1="613.30" y1="81.10" x2="621.70" y2="74.00" stroke="#9e7e9e" stroke-width="1.75"/>
<line x1="621.70" y1="74.00" x2="630.10" y2="66.90" stroke="#d8d816" stroke-width="1.75"/>
<line x1="613.30" y1="81.10" x2="621.70" y2="88.35" stroke="#9e7e9e" stroke-width="1.75"/>
<line x1="621.70" y1="88.35" x2="630.10" y2="95.60" stroke="#dc8c10" stroke-width="1.75"/>
<line x1="638.60" y1="81.10" x2="634.35" y2="74.00" stroke="#9e7e9e" stroke-width="1.75"/>
<line x1="634.35" y1="74.00" x2="630.10" y2="66.90" stroke="#d8d816" stroke-width="1.75"/>
<line x1="638.60" y1="81.10" x2="634.35" y2="88.35" stroke="#9e7e9e" stroke-width="1.75"/>
<line x1="634.35" y1="88.35" x2="630.10" y2="95.60" stroke="#dc8c10" stroke-width="1.75"/>
<line x1="638.60" y1="81.10" x2="647.00" y2="74.00" stroke="#9e7e9e" stroke-width="1.75"/>
<line x1="647.00" y1="74.00" x2="655.40" y2="66.90" stroke="#d8d816" stroke-width="1.75"/>
<line x1="638.60" y1="81.10" x2="647.00" y2="88.35" stroke="#9e7e9e" stroke-width="1.75"/>
<line x1="647.00" y1="88.35" x2="655.40" y2="95.60" stroke="#dc8c10" stroke-width="1.75"/>
<line x1="663.90" y1="81.10" x2="659.65" y2="74.00" stroke="#9e7e9e" stroke-width="1.75"/>
<line x1="659.65" y1="74.00" x2="655.40" y2="66.90" stroke="#d8d816" stroke-width="1.75"/>
<line x1="663.90" y1="81.10" x2="659.65" y2="88.35" stroke="#9e7e9e" stroke-width="1.75"/>
<line x1="659.65" y1="88.35" x2="655.40" y2="95.60" stroke="#dc8c10" stroke-width="1.75"/>
<line x1="663.90" y1="81.10" x2="672.30" y2="74.00" stroke="#9e7e9e" stroke-width="1.75"/>
<line x1="672.30" y1="74.00" x2="680.70" y2="66.90" stroke="#d8d816" stroke-width="1.75"/>
<line x1="663.90" y1="81.10" x2="672.30" y2="88.35" stroke="#9e7e9e" stroke-width="1.75"/>
<line x1="672.30" y1="88.35" x2="680.70" y2="95.60" stroke="#dc8c10" stroke-width="1.75"/>
<circle cx="528.9" cy="66.9" r="3.8" fill="url(#gS)"/>
<circle cx="528.9" cy="95.6" r="3.8" fill="url(#gB)"/>
<circle cx="554.2" cy="66.9" r="3.8" fill="url(#gS)"/>
<circle cx="554.2" cy="95.6" r="3.8" fill="url(#gB)"/>
<circle cx="579.5" cy="66.9" r="3.8" fill="url(#gS)"/>
<circle cx="579.5" cy="95.6" r="3.8" fill="url(#gB)"/>
<circle cx="604.8" cy="66.9" r="3.8" fill="url(#gS)"/>
<circle cx="604.8" cy="95.6" r="3.8" fill="url(#gB)"/>
<circle cx="630.1" cy="66.9" r="3.8" fill="url(#gS)"/>
<circle cx="630.1" cy="95.6" r="3.8" fill="url(#gB)"/>
<circle cx="655.4" cy="66.9" r="3.8" fill="url(#gS)"/>
<circle cx="655.4" cy="95.6" r="3.8" fill="url(#gB)"/>
<circle cx="680.7" cy="66.9" r="3.8" fill="url(#gS)"/>
<circle cx="680.7" cy="95.6" r="3.8" fill="url(#gB)"/>
<circle cx="537.4" cy="81.1" r="5.0" fill="url(#gMo)"/>
<circle cx="562.7" cy="81.1" r="5.0" fill="url(#gMo)"/>
<circle cx="588.0" cy="81.1" r="5.0" fill="url(#gMo)"/>
<circle cx="613.3" cy="81.1" r="5.0" fill="url(#gMo)"/>
<circle cx="638.6" cy="81.1" r="5.0" fill="url(#gMo)"/>
<circle cx="663.9" cy="81.1" r="5.0" fill="url(#gMo)"/>
<line x1="537.60" y1="212.20" x2="533.40" y2="205.10" stroke="#9e7e9e" stroke-width="1.75"/>
<line x1="533.40" y1="205.10" x2="529.20" y2="198.00" stroke="#d8d816" stroke-width="1.75"/>
<line x1="537.60" y1="212.20" x2="533.40" y2="219.50" stroke="#9e7e9e" stroke-width="1.75"/>
<line x1="533.40" y1="219.50" x2="529.20" y2="226.80" stroke="#dc8c10" stroke-width="1.75"/>
<line x1="537.60" y1="212.20" x2="546.05" y2="205.10" stroke="#9e7e9e" stroke-width="1.75"/>
<line x1="546.05" y1="205.10" x2="554.50" y2="198.00" stroke="#d8d816" stroke-width="1.75"/>
<line x1="537.60" y1="212.20" x2="546.05" y2="219.50" stroke="#9e7e9e" stroke-width="1.75"/>
<line x1="546.05" y1="219.50" x2="554.50" y2="226.80" stroke="#dc8c10" stroke-width="1.75"/>
<line x1="562.90" y1="212.20" x2="558.70" y2="205.10" stroke="#9e7e9e" stroke-width="1.75"/>
<line x1="558.70" y1="205.10" x2="554.50" y2="198.00" stroke="#d8d816" stroke-width="1.75"/>
<line x1="562.90" y1="212.20" x2="558.70" y2="219.50" stroke="#9e7e9e" stroke-width="1.75"/>
<line x1="558.70" y1="219.50" x2="554.50" y2="226.80" stroke="#dc8c10" stroke-width="1.75"/>
<line x1="562.90" y1="212.20" x2="571.35" y2="205.10" stroke="#9e7e9e" stroke-width="1.75"/>
<line x1="571.35" y1="205.10" x2="579.80" y2="198.00" stroke="#d8d816" stroke-width="1.75"/>
<line x1="562.90" y1="212.20" x2="571.35" y2="219.50" stroke="#9e7e9e" stroke-width="1.75"/>
<line x1="571.35" y1="219.50" x2="579.80" y2="226.80" stroke="#dc8c10" stroke-width="1.75"/>
<line x1="588.20" y1="212.20" x2="584.00" y2="205.10" stroke="#9e7e9e" stroke-width="1.75"/>
<line x1="584.00" y1="205.10" x2="579.80" y2="198.00" stroke="#d8d816" stroke-width="1.75"/>
<line x1="588.20" y1="212.20" x2="584.00" y2="219.50" stroke="#9e7e9e" stroke-width="1.75"/>
<line x1="584.00" y1="219.50" x2="579.80" y2="226.80" stroke="#dc8c10" stroke-width="1.75"/>
<line x1="588.20" y1="212.20" x2="596.65" y2="205.10" stroke="#9e7e9e" stroke-width="1.75"/>
<line x1="596.65" y1="205.10" x2="605.10" y2="198.00" stroke="#d8d816" stroke-width="1.75"/>
<line x1="588.20" y1="212.20" x2="596.65" y2="219.50" stroke="#9e7e9e" stroke-width="1.75"/>
<line x1="596.65" y1="219.50" x2="605.10" y2="226.80" stroke="#dc8c10" stroke-width="1.75"/>
<line x1="613.50" y1="212.20" x2="609.30" y2="205.10" stroke="#9e7e9e" stroke-width="1.75"/>
<line x1="609.30" y1="205.10" x2="605.10" y2="198.00" stroke="#d8d816" stroke-width="1.75"/>
<line x1="613.50" y1="212.20" x2="609.30" y2="219.50" stroke="#9e7e9e" stroke-width="1.75"/>
<line x1="609.30" y1="219.50" x2="605.10" y2="226.80" stroke="#dc8c10" stroke-width="1.75"/>
<line x1="613.50" y1="212.20" x2="621.95" y2="205.10" stroke="#9e7e9e" stroke-width="1.75"/>
<line x1="621.95" y1="205.10" x2="630.40" y2="198.00" stroke="#d8d816" stroke-width="1.75"/>
<line x1="613.50" y1="212.20" x2="621.95" y2="219.50" stroke="#9e7e9e" stroke-width="1.75"/>
<line x1="621.95" y1="219.50" x2="630.40" y2="226.80" stroke="#dc8c10" stroke-width="1.75"/>
<line x1="638.80" y1="212.20" x2="634.60" y2="205.10" stroke="#9e7e9e" stroke-width="1.75"/>
<line x1="634.60" y1="205.10" x2="630.40" y2="198.00" stroke="#d8d816" stroke-width="1.75"/>
<line x1="638.80" y1="212.20" x2="634.60" y2="219.50" stroke="#9e7e9e" stroke-width="1.75"/>
<line x1="634.60" y1="219.50" x2="630.40" y2="226.80" stroke="#dc8c10" stroke-width="1.75"/>
<line x1="638.80" y1="212.20" x2="647.25" y2="205.10" stroke="#9e7e9e" stroke-width="1.75"/>
<line x1="647.25" y1="205.10" x2="655.70" y2="198.00" stroke="#d8d816" stroke-width="1.75"/>
<line x1="638.80" y1="212.20" x2="647.25" y2="219.50" stroke="#9e7e9e" stroke-width="1.75"/>
<line x1="647.25" y1="219.50" x2="655.70" y2="226.80" stroke="#dc8c10" stroke-width="1.75"/>
<line x1="664.10" y1="212.20" x2="659.90" y2="205.10" stroke="#9e7e9e" stroke-width="1.75"/>
<line x1="659.90" y1="205.10" x2="655.70" y2="198.00" stroke="#d8d816" stroke-width="1.75"/>
<line x1="664.10" y1="212.20" x2="659.90" y2="219.50" stroke="#9e7e9e" stroke-width="1.75"/>
<line x1="659.90" y1="219.50" x2="655.70" y2="226.80" stroke="#dc8c10" stroke-width="1.75"/>
<line x1="664.10" y1="212.20" x2="672.55" y2="205.10" stroke="#9e7e9e" stroke-width="1.75"/>
<line x1="672.55" y1="205.10" x2="681.00" y2="198.00" stroke="#d8d816" stroke-width="1.75"/>
<line x1="664.10" y1="212.20" x2="672.55" y2="219.50" stroke="#9e7e9e" stroke-width="1.75"/>
<line x1="672.55" y1="219.50" x2="681.00" y2="226.80" stroke="#dc8c10" stroke-width="1.75"/>
<circle cx="529.2" cy="198.0" r="3.8" fill="url(#gS)"/>
<circle cx="529.2" cy="226.8" r="3.8" fill="url(#gB)"/>
<circle cx="554.5" cy="198.0" r="3.8" fill="url(#gS)"/>
<circle cx="554.5" cy="226.8" r="3.8" fill="url(#gB)"/>
<circle cx="579.8" cy="198.0" r="3.8" fill="url(#gS)"/>
<circle cx="579.8" cy="226.8" r="3.8" fill="url(#gB)"/>
<circle cx="605.1" cy="198.0" r="3.8" fill="url(#gS)"/>
<circle cx="605.1" cy="226.8" r="3.8" fill="url(#gB)"/>
<circle cx="630.4" cy="198.0" r="3.8" fill="url(#gS)"/>
<circle cx="630.4" cy="226.8" r="3.8" fill="url(#gB)"/>
<circle cx="655.7" cy="198.0" r="3.8" fill="url(#gS)"/>
<circle cx="655.7" cy="226.8" r="3.8" fill="url(#gB)"/>
<circle cx="681.0" cy="198.0" r="3.8" fill="url(#gS)"/>
<circle cx="681.0" cy="226.8" r="3.8" fill="url(#gB)"/>
<circle cx="537.6" cy="212.2" r="5.0" fill="url(#gMo)"/>
<circle cx="562.9" cy="212.2" r="5.0" fill="url(#gMo)"/>
<circle cx="588.2" cy="212.2" r="5.0" fill="url(#gMo)"/>
<circle cx="613.5" cy="212.2" r="5.0" fill="url(#gMo)"/>
<circle cx="638.8" cy="212.2" r="5.0" fill="url(#gMo)"/>
<circle cx="664.1" cy="212.2" r="5.0" fill="url(#gMo)"/>
<line x1="537.30" y1="341.00" x2="533.20" y2="334.20" stroke="#9e7e9e" stroke-width="1.75"/>
<line x1="533.20" y1="334.20" x2="529.10" y2="327.40" stroke="#d8d816" stroke-width="1.75"/>
<line x1="537.30" y1="341.00" x2="533.20" y2="348.20" stroke="#9e7e9e" stroke-width="1.75"/>
<line x1="533.20" y1="348.20" x2="529.10" y2="355.40" stroke="#dc8c10" stroke-width="1.75"/>
<line x1="537.30" y1="341.00" x2="545.74" y2="334.20" stroke="#9e7e9e" stroke-width="1.75"/>
<line x1="545.74" y1="334.20" x2="554.18" y2="327.40" stroke="#d8d816" stroke-width="1.75"/>
<line x1="537.30" y1="341.00" x2="545.74" y2="348.20" stroke="#9e7e9e" stroke-width="1.75"/>
<line x1="545.74" y1="348.20" x2="554.18" y2="355.40" stroke="#dc8c10" stroke-width="1.75"/>
<line x1="562.38" y1="341.00" x2="558.28" y2="334.20" stroke="#9e7e9e" stroke-width="1.75"/>
<line x1="558.28" y1="334.20" x2="554.18" y2="327.40" stroke="#d8d816" stroke-width="1.75"/>
<line x1="562.38" y1="341.00" x2="558.28" y2="348.20" stroke="#9e7e9e" stroke-width="1.75"/>
<line x1="558.28" y1="348.20" x2="554.18" y2="355.40" stroke="#dc8c10" stroke-width="1.75"/>
<line x1="562.38" y1="341.00" x2="570.82" y2="334.20" stroke="#9e7e9e" stroke-width="1.75"/>
<line x1="570.82" y1="334.20" x2="579.26" y2="327.40" stroke="#d8d816" stroke-width="1.75"/>
<line x1="562.38" y1="341.00" x2="570.82" y2="348.20" stroke="#9e7e9e" stroke-width="1.75"/>
<line x1="570.82" y1="348.20" x2="579.26" y2="355.40" stroke="#dc8c10" stroke-width="1.75"/>
<line x1="587.46" y1="341.00" x2="583.36" y2="334.20" stroke="#9e7e9e" stroke-width="1.75"/>
<line x1="583.36" y1="334.20" x2="579.26" y2="327.40" stroke="#d8d816" stroke-width="1.75"/>
<line x1="587.46" y1="341.00" x2="583.36" y2="348.20" stroke="#9e7e9e" stroke-width="1.75"/>
<line x1="583.36" y1="348.20" x2="579.26" y2="355.40" stroke="#dc8c10" stroke-width="1.75"/>
<line x1="587.46" y1="341.00" x2="595.90" y2="334.20" stroke="#9e7e9e" stroke-width="1.75"/>
<line x1="595.90" y1="334.20" x2="604.34" y2="327.40" stroke="#d8d816" stroke-width="1.75"/>
<line x1="587.46" y1="341.00" x2="595.90" y2="348.20" stroke="#9e7e9e" stroke-width="1.75"/>
<line x1="595.90" y1="348.20" x2="604.34" y2="355.40" stroke="#dc8c10" stroke-width="1.75"/>
<line x1="612.54" y1="341.00" x2="608.44" y2="334.20" stroke="#9e7e9e" stroke-width="1.75"/>
<line x1="608.44" y1="334.20" x2="604.34" y2="327.40" stroke="#d8d816" stroke-width="1.75"/>
<line x1="612.54" y1="341.00" x2="608.44" y2="348.20" stroke="#9e7e9e" stroke-width="1.75"/>
<line x1="608.44" y1="348.20" x2="604.34" y2="355.40" stroke="#dc8c10" stroke-width="1.75"/>
<line x1="612.54" y1="341.00" x2="620.98" y2="334.20" stroke="#9e7e9e" stroke-width="1.75"/>
<line x1="620.98" y1="334.20" x2="629.42" y2="327.40" stroke="#d8d816" stroke-width="1.75"/>
<line x1="612.54" y1="341.00" x2="620.98" y2="348.20" stroke="#9e7e9e" stroke-width="1.75"/>
<line x1="620.98" y1="348.20" x2="629.42" y2="355.40" stroke="#dc8c10" stroke-width="1.75"/>
<line x1="637.62" y1="341.00" x2="633.52" y2="334.20" stroke="#9e7e9e" stroke-width="1.75"/>
<line x1="633.52" y1="334.20" x2="629.42" y2="327.40" stroke="#d8d816" stroke-width="1.75"/>
<line x1="637.62" y1="341.00" x2="633.52" y2="348.20" stroke="#9e7e9e" stroke-width="1.75"/>
<line x1="633.52" y1="348.20" x2="629.42" y2="355.40" stroke="#dc8c10" stroke-width="1.75"/>
<line x1="637.62" y1="341.00" x2="646.06" y2="334.20" stroke="#9e7e9e" stroke-width="1.75"/>
<line x1="646.06" y1="334.20" x2="654.50" y2="327.40" stroke="#d8d816" stroke-width="1.75"/>
<line x1="637.62" y1="341.00" x2="646.06" y2="348.20" stroke="#9e7e9e" stroke-width="1.75"/>
<line x1="646.06" y1="348.20" x2="654.50" y2="355.40" stroke="#dc8c10" stroke-width="1.75"/>
<line x1="662.70" y1="341.00" x2="658.60" y2="334.20" stroke="#9e7e9e" stroke-width="1.75"/>
<line x1="658.60" y1="334.20" x2="654.50" y2="327.40" stroke="#d8d816" stroke-width="1.75"/>
<line x1="662.70" y1="341.00" x2="658.60" y2="348.20" stroke="#9e7e9e" stroke-width="1.75"/>
<line x1="658.60" y1="348.20" x2="654.50" y2="355.40" stroke="#dc8c10" stroke-width="1.75"/>
<line x1="662.70" y1="341.00" x2="671.14" y2="334.20" stroke="#9e7e9e" stroke-width="1.75"/>
<line x1="671.14" y1="334.20" x2="679.58" y2="327.40" stroke="#d8d816" stroke-width="1.75"/>
<line x1="662.70" y1="341.00" x2="671.14" y2="348.20" stroke="#9e7e9e" stroke-width="1.75"/>
<line x1="671.14" y1="348.20" x2="679.58" y2="355.40" stroke="#dc8c10" stroke-width="1.75"/>
<circle cx="529.1" cy="327.4" r="3.8" fill="url(#gS)"/>
<circle cx="529.1" cy="355.4" r="3.8" fill="url(#gB)"/>
<circle cx="554.2" cy="327.4" r="3.8" fill="url(#gS)"/>
<circle cx="554.2" cy="355.4" r="3.8" fill="url(#gB)"/>
<circle cx="579.3" cy="327.4" r="3.8" fill="url(#gS)"/>
<circle cx="579.3" cy="355.4" r="3.8" fill="url(#gB)"/>
<circle cx="604.3" cy="327.4" r="3.8" fill="url(#gS)"/>
<circle cx="604.3" cy="355.4" r="3.8" fill="url(#gB)"/>
<circle cx="629.4" cy="327.4" r="3.8" fill="url(#gS)"/>
<circle cx="629.4" cy="355.4" r="3.8" fill="url(#gB)"/>
<circle cx="654.5" cy="327.4" r="3.8" fill="url(#gS)"/>
<circle cx="654.5" cy="355.4" r="3.8" fill="url(#gB)"/>
<circle cx="679.6" cy="327.4" r="3.8" fill="url(#gS)"/>
<circle cx="679.6" cy="355.4" r="3.8" fill="url(#gB)"/>
<circle cx="537.3" cy="341.0" r="5.0" fill="url(#gMo)"/>
<circle cx="562.4" cy="341.0" r="5.0" fill="url(#gMo)"/>
<circle cx="587.5" cy="341.0" r="5.0" fill="url(#gMo)"/>
<circle cx="612.5" cy="341.0" r="5.0" fill="url(#gMo)"/>
<circle cx="637.6" cy="341.0" r="5.0" fill="url(#gMo)"/>
<circle cx="662.7" cy="341.0" r="5.0" fill="url(#gMo)"/>
<path d="M437.9 64.6C438.9 64.5 440.4 64.2 441.3 63.2C442.2 62.2 442.6 59.6 443.4 58.3C444.2 57.0 444.9 56.3 446.2 55.6C447.5 54.9 449.5 54.2 451.1 54.2C452.7 54.2 454.6 54.8 455.9 55.6C457.2 56.4 457.8 58.3 458.7 59.0C459.6 59.7 460.7 59.0 461.5 59.7C462.3 60.4 463.4 61.8 463.6 63.2C463.8 64.6 463.4 66.8 462.9 68.1C462.4 69.4 460.8 69.8 460.8 70.8C460.8 71.8 462.8 73.1 462.9 74.3C463.0 75.5 462.4 77.0 461.5 77.8C460.6 78.6 458.8 79.1 457.3 79.2C455.8 79.3 454.0 78.0 452.4 78.5C450.8 79.0 448.2 80.8 447.6 81.9C447.0 83.1 448.6 84.4 449.0 85.4C449.4 86.5 449.5 87.2 449.7 88.2C449.9 89.2 450.4 90.4 450.4 91.7C450.4 93.0 450.3 95.0 449.9 96.3C449.5 97.6 448.7 98.5 448.0 99.5C447.3 100.5 446.6 101.4 445.5 102.0C444.4 102.6 442.6 102.9 441.3 103.0C440.0 103.1 439.0 102.5 437.9 102.5C436.8 102.5 435.7 103.1 434.4 103.0C433.1 102.9 431.4 102.6 430.2 102.0C429.0 101.4 427.8 100.5 427.0 99.5C426.2 98.5 425.6 97.6 425.2 96.3C424.8 95.0 424.7 93.0 424.7 91.7C424.7 90.4 425.0 89.4 425.4 88.2C425.8 87.0 426.5 85.8 426.8 84.7C427.1 83.7 428.1 82.8 427.4 81.9C426.7 81.0 424.2 79.8 422.6 79.2C421.0 78.6 419.1 78.8 417.7 78.5C416.3 78.2 415.1 77.9 414.3 77.1C413.5 76.3 412.9 74.8 412.9 73.6C412.9 72.4 414.3 71.2 414.3 70.1C414.3 68.9 413.0 68.1 412.9 66.7C412.8 65.3 413.0 63.0 413.6 61.8C414.2 60.6 415.4 60.6 416.3 59.7C417.2 58.8 417.9 57.2 419.1 56.3C420.3 55.4 421.7 54.4 423.3 54.2C424.9 54.0 427.3 54.3 428.8 54.9C430.3 55.5 431.5 56.6 432.3 57.6C433.1 58.6 433.2 60.1 433.7 61.1C434.2 62.1 434.4 63.3 435.1 63.9C435.8 64.5 436.9 64.7 437.9 64.6Z" fill="#e43c42" opacity="1" stroke="#c42c34" stroke-width="0.8" stroke-opacity="0.7" />
<path d="M421 64.5 Q424 84 437.9 96 Q452 84 454.8 64.5" fill="none" stroke="#b82830" stroke-width="1" opacity="0.6"/>
<g fill="#e8454b" stroke="#bc2a32" stroke-width="0.7" stroke-opacity="0.55"><circle cx="419.1" cy="61.8" r="5"/><circle cx="427.4" cy="58.3" r="5.5"/><circle cx="416.3" cy="69.4" r="4.5"/><circle cx="419.1" cy="75.7" r="4.5"/><circle cx="456.7" cy="61.8" r="5"/><circle cx="448.4" cy="58.3" r="5.5"/><circle cx="459.5" cy="69.4" r="4.5"/><circle cx="456.7" cy="75.7" r="4.5"/><circle cx="428.8" cy="91.7" r="5"/><circle cx="446.9" cy="91.7" r="5"/><circle cx="437.9" cy="96.5" r="5"/><circle cx="432.3" cy="97.9" r="4"/><circle cx="443.4" cy="97.9" r="4"/></g>
<circle cx="425.4" cy="67.4" r="4.6" fill="#c8506a" opacity="0.85" stroke="#a83a52" stroke-width="0.7" stroke-opacity="0.6"/>
<circle cx="451.1" cy="67.4" r="4.6" fill="#c8506a" opacity="0.85" stroke="#a83a52" stroke-width="0.7" stroke-opacity="0.6"/>
<circle cx="437.9" cy="90.3" r="4.6" fill="#c8506a" opacity="0.85" stroke="#a83a52" stroke-width="0.7" stroke-opacity="0.6"/>
<path d="M437.9 70.6 L442.0 78.3 L433.8 78.3Z" fill="#fff" stroke="#fff" stroke-width="2.6" stroke-linejoin="round"/>
<circle cx="437.9" cy="75.3" r="3.4" fill="url(#gB)"/>
<line x1="423.6" y1="66.5" x2="423.6" y2="57.9" stroke="#a8708c" stroke-width="1.9" opacity="0.25"/>
<line x1="423.6" y1="57.9" x2="423.6" y2="49.2" stroke="#d8d816" stroke-width="1.9"/>
<line x1="453.6" y1="66.5" x2="453.6" y2="57.9" stroke="#a8708c" stroke-width="1.9" opacity="0.25"/>
<line x1="453.6" y1="57.9" x2="453.6" y2="49.2" stroke="#d8d816" stroke-width="1.9"/>
<line x1="423.6" y1="66.5" x2="416.1" y2="70.9" stroke="#a8708c" stroke-width="1.9" opacity="0.25"/>
<line x1="416.1" y1="70.9" x2="408.6" y2="75.2" stroke="#d8d816" stroke-width="1.9"/>
<line x1="453.6" y1="66.5" x2="461.1" y2="70.9" stroke="#a8708c" stroke-width="1.9" opacity="0.25"/>
<line x1="461.1" y1="70.9" x2="468.6" y2="75.2" stroke="#d8d816" stroke-width="1.9"/>
<line x1="438.6" y1="92.5" x2="431.1" y2="96.8" stroke="#a8708c" stroke-width="1.9" opacity="0.25"/>
<line x1="431.1" y1="96.8" x2="423.6" y2="101.2" stroke="#d8d816" stroke-width="1.9"/>
<line x1="438.6" y1="92.5" x2="446.1" y2="96.8" stroke="#a8708c" stroke-width="1.9" opacity="0.25"/>
<line x1="446.1" y1="96.8" x2="453.6" y2="101.2" stroke="#d8d816" stroke-width="1.9"/>
<circle cx="423.6" cy="49.2" r="3.7" fill="url(#gS)"/>
<circle cx="453.6" cy="49.2" r="3.7" fill="url(#gS)"/>
<circle cx="408.6" cy="75.2" r="3.7" fill="url(#gS)"/>
<circle cx="468.6" cy="75.2" r="3.7" fill="url(#gS)"/>
<circle cx="423.6" cy="101.2" r="3.7" fill="url(#gS)"/>
<circle cx="453.6" cy="101.2" r="3.7" fill="url(#gS)"/>
<ellipse cx="435" cy="36.6" rx="1.9" ry="1.4" fill="#e4262c"/>
<ellipse cx="441.8" cy="36.6" rx="1.9" ry="1.4" fill="#e4262c"/>
<ellipse cx="425.9" cy="43.6" rx="1.9" ry="1.4" fill="#e4262c"/>
<ellipse cx="450.8" cy="43.6" rx="1.9" ry="1.4" fill="#e4262c"/>
<ellipse cx="404.6" cy="80.4" rx="2.6" ry="2.2" fill="#e4262c"/>
<ellipse cx="471.4" cy="80.4" rx="2.6" ry="2.2" fill="#e4262c"/>
<ellipse cx="416.8" cy="100.9" rx="1.8" ry="2.4" fill="#e4262c"/>
<ellipse cx="459.7" cy="100.9" rx="1.8" ry="2.4" fill="#e4262c"/>
<ellipse cx="422.5" cy="48.8" rx="0.9" ry="0.9" fill="#e4262c"/>
<ellipse cx="454.8" cy="48.8" rx="0.9" ry="0.9" fill="#e4262c"/>
<ellipse cx="408.3" cy="92.6" rx="5.8" ry="5.8" fill="#e4262c"/>
<ellipse cx="468.6" cy="92.6" rx="5.8" ry="5.8" fill="#e4262c"/>
<circle cx="408.6" cy="92.5" r="5.0" fill="url(#gMo)"/>
<circle cx="468.6" cy="92.5" r="5.0" fill="url(#gMo)"/>
<path d="M587.5 70.2C588.6 69.1 589.2 68.3 590.4 67.8C591.6 67.3 593.2 67.0 594.5 67.3C595.8 67.6 597.1 68.5 598.0 69.6C598.9 70.7 599.3 72.2 599.8 73.7C600.3 75.2 601.0 76.7 601.0 78.4C601.0 80.2 600.5 82.9 599.8 84.2C599.1 85.5 598.0 85.5 596.9 86.5C595.8 87.5 595.0 89.0 593.4 90.0C591.8 91.0 589.3 92.0 587.5 92.4C585.7 92.8 584.2 92.9 582.8 92.4C581.3 91.9 579.7 90.7 578.8 89.5C577.9 88.3 577.2 86.7 577.2 85.4C577.2 84.1 578.0 83.1 578.8 81.9C579.5 80.7 580.8 79.7 581.7 78.4C582.6 77.1 583.0 75.7 584.0 74.3C585.0 72.9 586.4 71.3 587.5 70.2Z" fill="#e43c42" opacity="1" stroke="#c42c34" stroke-width="0.8" stroke-opacity="0.7" />
<clipPath id="lc1"><path d="M587.5 70.2C588.6 69.1 589.2 68.3 590.4 67.8C591.6 67.3 593.2 67.0 594.5 67.3C595.8 67.6 597.1 68.5 598.0 69.6C598.9 70.7 599.3 72.2 599.8 73.7C600.3 75.2 601.0 76.7 601.0 78.4C601.0 80.2 600.5 82.9 599.8 84.2C599.1 85.5 598.0 85.5 596.9 86.5C595.8 87.5 595.0 89.0 593.4 90.0C591.8 91.0 589.3 92.0 587.5 92.4C585.7 92.8 584.2 92.9 582.8 92.4C581.3 91.9 579.7 90.7 578.8 89.5C577.9 88.3 577.2 86.7 577.2 85.4C577.2 84.1 578.0 83.1 578.8 81.9C579.5 80.7 580.8 79.7 581.7 78.4C582.6 77.1 583.0 75.7 584.0 74.3C585.0 72.9 586.4 71.3 587.5 70.2Z"/></clipPath>
<g clip-path="url(#lc1)" fill="#e8454b" stroke="#bc2a32" stroke-width="0.7" stroke-opacity="0.55"><circle cx="593.4" cy="72.5" r="5.5"/><circle cx="582.5" cy="86" r="5"/><circle cx="592" cy="87.5" r="4.5"/><circle cx="586" cy="76" r="4.5"/><circle cx="596" cy="80" r="4"/></g>
<path d="M605.0 69.6C606.0 68.6 607.1 68.0 608.5 67.6C609.9 67.2 611.8 67.0 613.2 67.3C614.6 67.6 615.9 68.4 616.7 69.6C617.5 70.8 617.0 73.1 617.9 74.3C618.8 75.5 620.8 75.6 622.0 76.6C623.2 77.6 624.4 78.8 624.9 80.1C625.4 81.4 625.4 82.9 624.9 84.2C624.4 85.5 623.2 86.5 622.0 87.7C620.8 88.9 619.4 90.3 617.9 91.2C616.4 92.1 614.7 92.9 613.2 93.0C611.7 93.1 610.5 92.4 609.1 91.8C607.7 91.2 606.2 90.7 605.0 89.5C603.8 88.3 602.7 86.6 602.1 84.8C601.5 83.0 601.4 80.2 601.5 78.4C601.6 76.6 602.1 75.2 602.7 73.7C603.3 72.2 604.0 70.6 605.0 69.6Z" fill="#e2333a" opacity="1" stroke="#c42c34" stroke-width="0.8" stroke-opacity="0.7" />
<clipPath id="lc2"><path d="M605.0 69.6C606.0 68.6 607.1 68.0 608.5 67.6C609.9 67.2 611.8 67.0 613.2 67.3C614.6 67.6 615.9 68.4 616.7 69.6C617.5 70.8 617.0 73.1 617.9 74.3C618.8 75.5 620.8 75.6 622.0 76.6C623.2 77.6 624.4 78.8 624.9 80.1C625.4 81.4 625.4 82.9 624.9 84.2C624.4 85.5 623.2 86.5 622.0 87.7C620.8 88.9 619.4 90.3 617.9 91.2C616.4 92.1 614.7 92.9 613.2 93.0C611.7 93.1 610.5 92.4 609.1 91.8C607.7 91.2 606.2 90.7 605.0 89.5C603.8 88.3 602.7 86.6 602.1 84.8C601.5 83.0 601.4 80.2 601.5 78.4C601.6 76.6 602.1 75.2 602.7 73.7C603.3 72.2 604.0 70.6 605.0 69.6Z"/></clipPath>
<g clip-path="url(#lc2)" fill="#e63a40" stroke="#bc2a32" stroke-width="0.7" stroke-opacity="0.55"><circle cx="609.5" cy="72.5" r="5"/><circle cx="617" cy="73" r="4.5"/><circle cx="620.5" cy="82" r="4.5"/><circle cx="614" cy="89" r="4.5"/><circle cx="606" cy="85" r="4.5"/></g>
<circle cx="613.2" cy="81.3" r="4.8" fill="#c8506a" opacity="0.85" stroke="#a83a52" stroke-width="0.7" stroke-opacity="0.6"/>
<line x1="588.0" y1="81.1" x2="584.0" y2="74.0" stroke="#a8708c" stroke-width="1.9" opacity="0.25"/>
<line x1="584.0" y1="74.0" x2="579.9" y2="66.9" stroke="#d8d816" stroke-width="1.9"/>
<line x1="613.3" y1="81.1" x2="609.1" y2="74.0" stroke="#a8708c" stroke-width="1.9" opacity="0.25"/>
<line x1="609.1" y1="74.0" x2="604.9" y2="66.9" stroke="#d8d816" stroke-width="1.9"/>
<line x1="588.0" y1="81.1" x2="584.0" y2="88.3" stroke="#a8708c" stroke-width="1.9" opacity="0.25"/>
<line x1="584.0" y1="88.3" x2="579.9" y2="95.6" stroke="#dc8c10" stroke-width="1.9"/>
<line x1="613.3" y1="81.1" x2="609.1" y2="88.3" stroke="#a8708c" stroke-width="1.9" opacity="0.25"/>
<line x1="609.1" y1="88.3" x2="604.9" y2="95.6" stroke="#dc8c10" stroke-width="1.9"/>
<circle cx="579.9" cy="66.9" r="3.8" fill="url(#gS)"/>
<circle cx="604.9" cy="66.9" r="3.8" fill="url(#gS)"/>
<circle cx="579.9" cy="95.6" r="3.8" fill="url(#gB)"/>
<circle cx="604.9" cy="95.6" r="3.8" fill="url(#gB)"/>
<circle cx="588.0" cy="81.1" r="5.0" fill="url(#gMo)"/>
<ellipse cx="599.8" cy="95.9" rx="1.6" ry="2.2" fill="#e4262c"/>
<ellipse cx="635.4" cy="95.9" rx="1.6" ry="2.2" fill="#e4262c"/>
<ellipse cx="643" cy="80.7" rx="1.4" ry="2.0" fill="#e4262c"/>
<ellipse cx="578.2" cy="61.2" rx="1" ry="0.5" fill="#e4262c"/>
<ellipse cx="605.6" cy="61.2" rx="1" ry="0.5" fill="#e4262c"/>
<ellipse cx="631.3" cy="61.2" rx="1" ry="0.5" fill="#e4262c"/>
<path d="M438.5 193.9C439.4 193.9 440.3 192.2 441.3 191.1C442.3 190.0 443.4 188.4 444.7 187.6C446.0 186.8 447.3 186.3 448.9 186.3C450.5 186.3 452.9 186.8 454.5 187.6C456.1 188.4 457.5 189.8 458.6 191.1C459.8 192.4 460.8 193.7 461.4 195.3C462.0 196.9 462.2 199.0 462.1 200.8C462.0 202.7 461.4 204.9 460.7 206.4C460.0 207.9 459.4 209.0 457.9 209.9C456.4 210.8 453.0 211.2 451.7 212.0C450.4 212.8 450.4 213.7 450.3 214.7C450.2 215.7 450.8 217.0 451.0 218.2C451.2 219.4 451.8 220.3 451.7 221.7C451.6 223.1 451.1 225.2 450.3 226.6C449.5 228.0 448.2 229.2 446.8 230.0C445.4 230.8 443.4 231.1 442.0 231.4C440.6 231.7 439.7 231.7 438.5 231.7C437.3 231.7 436.4 231.7 435.0 231.4C433.6 231.1 431.6 230.8 430.2 230.0C428.8 229.2 427.5 228.0 426.7 226.6C425.9 225.2 425.4 223.1 425.3 221.7C425.2 220.3 425.8 219.4 426.0 218.2C426.2 217.0 426.8 215.7 426.7 214.7C426.6 213.7 426.6 212.8 425.3 212.0C424.0 211.2 420.5 210.8 419.0 209.9C417.5 209.0 417.0 207.9 416.3 206.4C415.6 204.9 415.0 202.7 414.9 200.8C414.8 199.0 415.0 196.9 415.6 195.3C416.2 193.7 417.2 192.4 418.3 191.1C419.4 189.8 420.9 188.4 422.5 187.6C424.1 186.8 426.5 186.3 428.1 186.3C429.7 186.3 430.9 186.8 432.2 187.6C433.5 188.4 434.6 190.0 435.7 191.1C436.8 192.2 437.6 193.9 438.5 193.9Z" fill="#e8464b" opacity="1" stroke="#cc3a40" stroke-width="0.8" stroke-opacity="0.7" />
<circle cx="424.6" cy="198.8" r="4.6" fill="#c8506a" opacity="0.75" stroke="#a83a52" stroke-width="0.7" stroke-opacity="0.6"/>
<circle cx="451.7" cy="198.8" r="4.6" fill="#c8506a" opacity="0.75" stroke="#a83a52" stroke-width="0.7" stroke-opacity="0.6"/>
<circle cx="438.5" cy="221.7" r="4.6" fill="#c8506a" opacity="0.75" stroke="#a83a52" stroke-width="0.7" stroke-opacity="0.6"/>
<circle cx="438.4" cy="206.7" r="5.1" fill="#c4323a"/>
<circle cx="438.4" cy="206.7" r="4.1" fill="#fff"/>
<line x1="423.9" y1="197.9" x2="416.4" y2="202.2" stroke="#a8708c" stroke-width="1.9" opacity="0.25"/>
<line x1="416.4" y1="202.2" x2="408.9" y2="206.5" stroke="#d8d816" stroke-width="1.9"/>
<line x1="453.9" y1="197.9" x2="461.4" y2="202.2" stroke="#a8708c" stroke-width="1.9" opacity="0.25"/>
<line x1="461.4" y1="202.2" x2="468.9" y2="206.5" stroke="#d8d816" stroke-width="1.9"/>
<line x1="438.9" y1="223.7" x2="431.4" y2="227.9" stroke="#a8708c" stroke-width="1.9" opacity="0.25"/>
<line x1="431.4" y1="227.9" x2="423.9" y2="232.2" stroke="#d8d816" stroke-width="1.9"/>
<line x1="438.9" y1="223.7" x2="446.4" y2="227.9" stroke="#a8708c" stroke-width="1.9" opacity="0.25"/>
<line x1="446.4" y1="227.9" x2="453.9" y2="232.2" stroke="#d8d816" stroke-width="1.9"/>
<line x1="423.9" y1="197.9" x2="423.9" y2="189.3" stroke="#a8708c" stroke-width="1.9" opacity="0.25"/>
<line x1="423.9" y1="189.3" x2="423.9" y2="180.8" stroke="#d8d816" stroke-width="1.9"/>
<line x1="453.9" y1="197.9" x2="453.9" y2="189.3" stroke="#a8708c" stroke-width="1.9" opacity="0.25"/>
<line x1="453.9" y1="189.3" x2="453.9" y2="180.8" stroke="#d8d816" stroke-width="1.9"/>
<circle cx="408.9" cy="206.5" r="3.6" fill="url(#gS)"/>
<circle cx="468.9" cy="206.5" r="3.6" fill="url(#gS)"/>
<circle cx="423.9" cy="232.2" r="3.6" fill="url(#gS)"/>
<circle cx="453.9" cy="232.2" r="3.6" fill="url(#gS)"/>
<circle cx="423.9" cy="180.8" r="3.6" fill="url(#gS)"/>
<circle cx="453.9" cy="180.8" r="3.6" fill="url(#gS)"/>
<ellipse cx="427" cy="177.4" rx="1.8" ry="1.3" fill="#e4262c"/>
<ellipse cx="449.3" cy="177.4" rx="1.8" ry="1.3" fill="#e4262c"/>
<ellipse cx="407.4" cy="211.9" rx="1.6" ry="1.3" fill="#e4262c"/>
<ellipse cx="469.8" cy="211.9" rx="1.6" ry="1.3" fill="#e4262c"/>
<ellipse cx="403.7" cy="224" rx="1.5" ry="1.5" fill="#e4262c"/>
<ellipse cx="473.5" cy="224" rx="1.5" ry="1.5" fill="#e4262c"/>
<ellipse cx="417.7" cy="230.5" rx="1.3" ry="1.8" fill="#e4262c"/>
<ellipse cx="458.6" cy="230.5" rx="1.3" ry="1.8" fill="#e4262c"/>
<ellipse cx="406.5" cy="228.6" rx="1.3" ry="1.3" fill="#e4262c"/>
<ellipse cx="470.5" cy="228.6" rx="1.3" ry="1.3" fill="#e4262c"/>
<ellipse cx="438.5" cy="178.5" rx="1.2" ry="1.0" fill="#e4262c"/>
<circle cx="408.9" cy="223.65" r="5.9" fill="#e4262c" opacity="0.85"/>
<circle cx="408.9" cy="223.7" r="5.0" fill="url(#gMo)"/>
<circle cx="468.9" cy="223.65" r="5.9" fill="#e4262c" opacity="0.85"/>
<circle cx="468.9" cy="223.7" r="5.0" fill="url(#gMo)"/>
<circle cx="438.9" cy="172.2" r="5.9" fill="#e4262c" opacity="0.85"/>
<circle cx="438.9" cy="172.2" r="5.0" fill="url(#gMo)"/>
<ellipse cx="350.8" cy="223.8" rx="1.4" ry="1.6" fill="#e4262c"/>
<ellipse cx="375" cy="225.5" rx="1.4" ry="1.4" fill="#e4262c"/>
<ellipse cx="390.8" cy="251.6" rx="1.3" ry="1.3" fill="#e4262c"/>
<ellipse cx="489.8" cy="251.6" rx="1.3" ry="1.3" fill="#e4262c"/>
<path d="M589.3 199.7C591.1 199.7 593.5 200.0 595.1 200.8C596.7 201.6 597.8 202.6 598.6 204.4C599.4 206.2 599.8 209.1 599.8 211.4C599.8 213.7 599.4 216.6 598.6 218.4C597.8 220.2 596.7 221.6 595.1 222.5C593.5 223.4 591.1 224.0 589.3 224.0C587.4 224.0 585.5 223.4 584.0 222.5C582.5 221.6 581.3 220.2 580.5 218.4C579.7 216.6 579.3 213.7 579.3 211.4C579.3 209.1 579.7 206.2 580.5 204.4C581.3 202.6 582.5 201.6 584.0 200.8C585.5 200.0 587.4 199.7 589.3 199.7Z" fill="#ec4e53" opacity="1" stroke="#d04048" stroke-width="0.8" stroke-opacity="0.7" />
<path d="M605.0 203.2C606.4 202.1 608.1 201.2 609.7 200.8C611.3 200.4 613.0 200.2 614.4 200.6C615.8 201.0 617.1 202.2 617.9 203.2C618.7 204.2 618.1 205.9 619.0 206.7C619.9 207.5 622.0 207.1 623.1 207.9C624.2 208.7 625.4 210.1 625.5 211.4C625.6 212.8 624.8 214.9 623.7 216.0C622.6 217.1 620.0 216.9 619.0 217.8C618.0 218.7 618.8 220.3 617.9 221.3C617.0 222.3 615.3 223.3 613.8 223.6C612.3 223.9 610.6 223.5 609.1 223.0C607.6 222.5 606.3 221.9 605.0 220.7C603.7 219.5 602.3 217.4 601.5 216.0C600.7 214.6 600.4 213.4 600.4 212.0C600.4 210.6 600.7 208.8 601.5 207.3C602.3 205.8 603.6 204.3 605.0 203.2Z" fill="#e0242b" opacity="1" stroke="#b81c22" stroke-width="0.8" stroke-opacity="0.7" />
<circle cx="614" cy="212" r="5.0" fill="#d0506a" opacity="0.85" stroke="#a83a52" stroke-width="0.7" stroke-opacity="0.6"/>
<line x1="588.3" y1="212.2" x2="584.3" y2="205.1" stroke="#a8708c" stroke-width="1.9" opacity="0.25"/>
<line x1="584.3" y1="205.1" x2="580.3" y2="198.0" stroke="#d8d816" stroke-width="1.9"/>
<line x1="613.6" y1="212.2" x2="609.5" y2="205.1" stroke="#a8708c" stroke-width="1.9" opacity="0.25"/>
<line x1="609.5" y1="205.1" x2="605.4" y2="198.0" stroke="#d8d816" stroke-width="1.9"/>
<line x1="588.3" y1="212.2" x2="584.3" y2="219.5" stroke="#a8708c" stroke-width="1.9" opacity="0.25"/>
<line x1="584.3" y1="219.5" x2="580.3" y2="226.8" stroke="#dc8c10" stroke-width="1.9"/>
<line x1="613.6" y1="212.2" x2="609.5" y2="219.5" stroke="#a8708c" stroke-width="1.9" opacity="0.25"/>
<line x1="609.5" y1="219.5" x2="605.4" y2="226.8" stroke="#dc8c10" stroke-width="1.9"/>
<circle cx="588.3" cy="212.2" r="5.0" fill="url(#gMo)"/>
<circle cx="586.5" cy="211.8" r="3.2" fill="#d8485a" opacity="0.7" stroke="#a83a52" stroke-width="0.7" stroke-opacity="0.6"/>
<circle cx="580.3" cy="198.0" r="3.8" fill="url(#gS)"/>
<circle cx="605.4" cy="198.0" r="3.8" fill="url(#gS)"/>
<circle cx="580.3" cy="226.8" r="3.8" fill="url(#gB)"/>
<circle cx="605.4" cy="226.8" r="3.8" fill="url(#gB)"/>
<ellipse cx="599.8" cy="196.8" rx="1.8" ry="2.8" fill="#e4262c"/>
<ellipse cx="599.8" cy="226.5" rx="1.8" ry="2.8" fill="#e4262c"/>
<ellipse cx="634.6" cy="196.8" rx="1.9" ry="3.2" fill="#e4262c"/>
<ellipse cx="634.6" cy="227.1" rx="1.9" ry="3.2" fill="#e4262c"/>
<ellipse cx="643.3" cy="211.9" rx="2.2" ry="2.6" fill="#e4262c"/>
<ellipse cx="632.3" cy="211.9" rx="1" ry="1.3" fill="#e4262c"/>
<ellipse cx="543.4" cy="211.9" rx="1.8" ry="2.0" fill="#e4262c"/>
<ellipse cx="560.5" cy="211.9" rx="2.0" ry="2.0" fill="#e4262c"/>
<ellipse cx="669.6" cy="211.9" rx="1.4" ry="1.9" fill="#e4262c"/>
<path d="M400.0 317.9C400.6 316.6 401.4 314.7 402.9 313.9C404.4 313.1 406.9 313.1 408.9 312.9C410.9 312.7 413.1 312.2 414.8 312.9C416.5 313.6 418.0 315.2 418.8 316.9C419.6 318.6 419.3 320.4 419.8 322.9C420.3 325.4 420.8 329.3 421.8 331.8C422.8 334.3 424.2 336.7 425.7 337.7C427.2 338.7 429.0 337.0 430.7 337.7C432.4 338.4 434.7 339.9 435.7 341.7C436.7 343.5 436.9 346.6 436.6 348.6C436.3 350.6 433.7 351.8 433.7 353.6C433.7 355.4 435.5 357.7 436.6 359.5C437.8 361.3 438.9 363.3 440.6 364.5C442.3 365.7 445.1 365.4 446.6 366.5C448.1 367.6 449.2 369.6 449.5 371.4C449.8 373.2 449.5 375.7 448.5 377.4C447.5 379.1 445.6 380.6 443.6 381.4C441.6 382.2 438.8 382.6 436.6 382.3C434.5 382.0 432.2 380.7 430.7 379.4C429.2 378.1 428.0 376.0 427.7 374.4C427.4 372.8 428.7 371.3 428.7 369.5C428.7 367.7 428.2 365.5 427.7 363.5C427.2 361.5 427.0 358.8 425.7 357.6C424.4 356.5 421.6 357.3 419.8 356.6C418.0 355.9 416.0 354.9 414.8 353.6C413.6 352.3 412.7 350.2 412.9 348.6C413.1 347.0 415.5 345.5 415.8 343.7C416.1 341.9 415.6 339.7 414.8 337.7C414.0 335.7 412.7 332.9 410.9 331.8C409.1 330.7 405.7 331.6 403.9 330.8C402.1 330.0 400.8 328.3 400.0 326.8C399.2 325.3 399.0 323.4 399.0 321.9C399.0 320.4 399.4 319.2 400.0 317.9Z" fill="#e43c42" opacity="1" stroke="#c42c34" stroke-width="0.8" stroke-opacity="0.7" />
<path d="M428.7 316.9C429.7 315.4 431.0 313.9 432.7 312.9C434.4 311.9 436.6 311.0 438.6 311.0C440.6 311.0 443.0 311.8 444.6 312.9C446.2 314.0 447.7 316.1 448.5 317.9C449.3 319.7 448.7 322.6 449.5 323.8C450.3 325.0 452.2 324.1 453.5 324.8C454.8 325.5 456.7 326.3 457.5 327.8C458.3 329.3 458.7 332.0 458.5 333.8C458.3 335.6 456.2 337.6 456.5 338.7C456.8 339.8 459.4 339.5 460.4 340.7C461.4 341.9 462.2 343.9 462.4 345.7C462.6 347.5 462.2 349.8 461.4 351.6C460.6 353.4 459.1 355.5 457.5 356.6C455.9 357.8 453.3 358.3 451.5 358.5C449.7 358.7 447.9 358.4 446.6 357.6C445.3 356.8 444.3 355.3 443.6 353.6C442.9 351.9 442.6 349.6 442.6 347.6C442.6 345.6 443.3 343.7 443.6 341.7C443.9 339.7 444.9 337.3 444.6 335.7C444.3 334.1 443.1 332.4 441.6 331.8C440.1 331.2 437.5 332.1 435.7 331.8C433.9 331.5 432.2 330.5 430.7 329.8C429.2 329.1 427.4 329.1 426.7 327.8C426.0 326.5 426.2 323.8 426.5 322.0C426.8 320.2 427.7 318.4 428.7 316.9Z" fill="#e43c42" opacity="1" stroke="#c42c34" stroke-width="0.8" stroke-opacity="0.7" />
<clipPath id="lc3"><path d="M400.0 317.9C400.6 316.6 401.4 314.7 402.9 313.9C404.4 313.1 406.9 313.1 408.9 312.9C410.9 312.7 413.1 312.2 414.8 312.9C416.5 313.6 418.0 315.2 418.8 316.9C419.6 318.6 419.3 320.4 419.8 322.9C420.3 325.4 420.8 329.3 421.8 331.8C422.8 334.3 424.2 336.7 425.7 337.7C427.2 338.7 429.0 337.0 430.7 337.7C432.4 338.4 434.7 339.9 435.7 341.7C436.7 343.5 436.9 346.6 436.6 348.6C436.3 350.6 433.7 351.8 433.7 353.6C433.7 355.4 435.5 357.7 436.6 359.5C437.8 361.3 438.9 363.3 440.6 364.5C442.3 365.7 445.1 365.4 446.6 366.5C448.1 367.6 449.2 369.6 449.5 371.4C449.8 373.2 449.5 375.7 448.5 377.4C447.5 379.1 445.6 380.6 443.6 381.4C441.6 382.2 438.8 382.6 436.6 382.3C434.5 382.0 432.2 380.7 430.7 379.4C429.2 378.1 428.0 376.0 427.7 374.4C427.4 372.8 428.7 371.3 428.7 369.5C428.7 367.7 428.2 365.5 427.7 363.5C427.2 361.5 427.0 358.8 425.7 357.6C424.4 356.5 421.6 357.3 419.8 356.6C418.0 355.9 416.0 354.9 414.8 353.6C413.6 352.3 412.7 350.2 412.9 348.6C413.1 347.0 415.5 345.5 415.8 343.7C416.1 341.9 415.6 339.7 414.8 337.7C414.0 335.7 412.7 332.9 410.9 331.8C409.1 330.7 405.7 331.6 403.9 330.8C402.1 330.0 400.8 328.3 400.0 326.8C399.2 325.3 399.0 323.4 399.0 321.9C399.0 320.4 399.4 319.2 400.0 317.9Z"/></clipPath>
<g clip-path="url(#lc3)" fill="#e8454b" stroke="#bc2a32" stroke-width="0.7" stroke-opacity="0.55"><circle cx="404.3" cy="318.6" r="4.5"/><circle cx="413.6" cy="316.2" r="5"/><circle cx="404.3" cy="327.3" r="4.5"/><circle cx="409.5" cy="322.5" r="5"/><circle cx="415" cy="333" r="4.5"/><circle cx="419" cy="340" r="5"/><circle cx="424.7" cy="346.7" r="6"/><circle cx="418.5" cy="350" r="5"/><circle cx="431" cy="343" r="5.5"/><circle cx="431" cy="352" r="4.5"/><circle cx="436" cy="364" r="4.5"/><circle cx="437.5" cy="372" r="6"/><circle cx="432" cy="376" r="5"/><circle cx="444" cy="375" r="5"/><circle cx="438" cy="379" r="4.5"/></g>
<clipPath id="lc4"><path d="M428.7 316.9C429.7 315.4 431.0 313.9 432.7 312.9C434.4 311.9 436.6 311.0 438.6 311.0C440.6 311.0 443.0 311.8 444.6 312.9C446.2 314.0 447.7 316.1 448.5 317.9C449.3 319.7 448.7 322.6 449.5 323.8C450.3 325.0 452.2 324.1 453.5 324.8C454.8 325.5 456.7 326.3 457.5 327.8C458.3 329.3 458.7 332.0 458.5 333.8C458.3 335.6 456.2 337.6 456.5 338.7C456.8 339.8 459.4 339.5 460.4 340.7C461.4 341.9 462.2 343.9 462.4 345.7C462.6 347.5 462.2 349.8 461.4 351.6C460.6 353.4 459.1 355.5 457.5 356.6C455.9 357.8 453.3 358.3 451.5 358.5C449.7 358.7 447.9 358.4 446.6 357.6C445.3 356.8 444.3 355.3 443.6 353.6C442.9 351.9 442.6 349.6 442.6 347.6C442.6 345.6 443.3 343.7 443.6 341.7C443.9 339.7 444.9 337.3 444.6 335.7C444.3 334.1 443.1 332.4 441.6 331.8C440.1 331.2 437.5 332.1 435.7 331.8C433.9 331.5 432.2 330.5 430.7 329.8C429.2 329.1 427.4 329.1 426.7 327.8C426.0 326.5 426.2 323.8 426.5 322.0C426.8 320.2 427.7 318.4 428.7 316.9Z"/></clipPath>
<g clip-path="url(#lc4)" fill="#e8454b" stroke="#bc2a32" stroke-width="0.7" stroke-opacity="0.55"><circle cx="433" cy="317" r="5"/><circle cx="443" cy="316" r="5"/><circle cx="438" cy="323" r="5.5"/><circle cx="453.5" cy="328" r="4.5"/><circle cx="457" cy="343" r="5"/><circle cx="452" cy="352" r="5.5"/><circle cx="446.5" cy="347" r="5"/><circle cx="458" cy="349" r="4"/></g>
<circle cx="409.9" cy="322.9" r="4.4" fill="#c8506a" opacity="0.75" stroke="#a83a52" stroke-width="0.7" stroke-opacity="0.6"/>
<circle cx="435.7" cy="322.9" r="4.4" fill="#c8506a" opacity="0.75" stroke="#a83a52" stroke-width="0.7" stroke-opacity="0.6"/>
<circle cx="422.8" cy="347.6" r="4.4" fill="#c8506a" opacity="0.75" stroke="#a83a52" stroke-width="0.7" stroke-opacity="0.6"/>
<circle cx="448.5" cy="347.6" r="4.4" fill="#c8506a" opacity="0.75" stroke="#a83a52" stroke-width="0.7" stroke-opacity="0.6"/>
<circle cx="436.6" cy="371.4" r="4.4" fill="#c8506a" opacity="0.75" stroke="#a83a52" stroke-width="0.7" stroke-opacity="0.6"/>
<circle cx="423.8" cy="330.8" r="3.4" fill="url(#gB)"/>
<circle cx="438.6" cy="356.6" r="3.4" fill="url(#gB)"/>
<line x1="408.9" y1="321.8" x2="408.9" y2="313.4" stroke="#a8708c" stroke-width="1.9" opacity="0.25"/>
<line x1="408.9" y1="313.4" x2="408.9" y2="304.9" stroke="#d8d816" stroke-width="1.9"/>
<line x1="438.4" y1="321.8" x2="438.4" y2="313.4" stroke="#a8708c" stroke-width="1.9" opacity="0.25"/>
<line x1="438.4" y1="313.4" x2="438.4" y2="304.9" stroke="#d8d816" stroke-width="1.9"/>
<line x1="408.9" y1="321.8" x2="401.5" y2="326.0" stroke="#a8708c" stroke-width="1.9" opacity="0.25"/>
<line x1="401.5" y1="326.0" x2="394.1" y2="330.2" stroke="#d8d816" stroke-width="1.9"/>
<line x1="453.1" y1="347.1" x2="460.5" y2="351.4" stroke="#a8708c" stroke-width="1.9" opacity="0.25"/>
<line x1="460.5" y1="351.4" x2="467.9" y2="355.6" stroke="#d8d816" stroke-width="1.9"/>
<line x1="438.4" y1="372.5" x2="431.0" y2="376.7" stroke="#a8708c" stroke-width="1.9" opacity="0.25"/>
<line x1="431.0" y1="376.7" x2="423.6" y2="380.9" stroke="#d8d816" stroke-width="1.9"/>
<line x1="438.4" y1="372.5" x2="445.7" y2="376.7" stroke="#a8708c" stroke-width="1.9" opacity="0.25"/>
<line x1="445.7" y1="376.7" x2="453.1" y2="380.9" stroke="#d8d816" stroke-width="1.9"/>
<circle cx="408.9" cy="304.9" r="3.6" fill="url(#gS)"/>
<circle cx="438.4" cy="304.9" r="3.6" fill="url(#gS)"/>
<circle cx="394.1" cy="330.2" r="3.6" fill="url(#gS)"/>
<circle cx="379.4" cy="355.6" r="3.6" fill="url(#gS)"/>
<circle cx="467.9" cy="355.6" r="3.6" fill="url(#gS)"/>
<circle cx="394.1" cy="380.9" r="3.6" fill="url(#gS)"/>
<circle cx="423.6" cy="380.9" r="3.6" fill="url(#gS)"/>
<circle cx="453.1" cy="380.9" r="3.6" fill="url(#gS)"/>
<circle cx="451.5" cy="331.6" r="4.8" fill="#e2343a"/><circle cx="451.3" cy="331.3" r="2.9" fill="#f58a20"/>
<circle cx="407.9" cy="356.6" r="5.6" fill="#e2343a"/><circle cx="407.7" cy="356.3" r="2.9" fill="#f58a20"/>
<ellipse cx="425.7" cy="324.8" rx="2.6" ry="2.6" fill="#e4262c"/>
<ellipse cx="461.4" cy="324.8" rx="2.6" ry="2.6" fill="#e4262c"/>
<ellipse cx="412.9" cy="371.4" rx="1.6" ry="1.6" fill="#e4262c"/>
<ellipse cx="404.9" cy="374.4" rx="1.6" ry="1.6" fill="#e4262c"/>
<ellipse cx="415.8" cy="370.4" rx="1.3" ry="1.3" fill="#e4262c"/>
<ellipse cx="421.8" cy="381.4" rx="1.6" ry="1.6" fill="#e4262c"/>
<ellipse cx="459.5" cy="382.3" rx="1.6" ry="1.6" fill="#e4262c"/>
<ellipse cx="417.5" cy="297.5" rx="1.5" ry="1.2" fill="#e4262c"/>
<ellipse cx="433" cy="300" rx="1.3" ry="1.3" fill="#e4262c"/>
<ellipse cx="446.5" cy="300" rx="1.3" ry="1.3" fill="#e4262c"/>
<ellipse cx="400.6" cy="357" rx="1.5" ry="1.5" fill="#e4262c"/>
<ellipse cx="396" cy="352" rx="1.5" ry="1.5" fill="#e4262c"/>
<ellipse cx="466" cy="356" rx="1.5" ry="1.5" fill="#e4262c"/>
<ellipse cx="470" cy="372" rx="1.5" ry="1.5" fill="#e4262c"/>
<ellipse cx="384" cy="318" rx="1.5" ry="1.5" fill="#e4262c"/>
<ellipse cx="396.5" cy="307.5" rx="1.3" ry="1.3" fill="#e4262c"/>
<ellipse cx="390.3" cy="342.5" rx="1.8" ry="1.8" fill="#e4262c"/>
<ellipse cx="399.5" cy="342.5" rx="1.8" ry="1.8" fill="#e4262c"/>
<ellipse cx="392.5" cy="351.7" rx="1.6" ry="1.6" fill="#e4262c"/>
<ellipse cx="404" cy="371.5" rx="2.2" ry="2.2" fill="#e4262c"/>
<ellipse cx="413.2" cy="370" rx="1.8" ry="1.8" fill="#e4262c"/>
<ellipse cx="408.6" cy="377.6" rx="1.5" ry="1.5" fill="#e4262c"/>
<ellipse cx="471.2" cy="371.5" rx="2.2" ry="2.2" fill="#e4262c"/>
<ellipse cx="469.7" cy="377.6" rx="1.5" ry="1.5" fill="#e4262c"/>
<ellipse cx="417.8" cy="293.7" rx="2.4" ry="2.0" fill="#e4262c"/>
<ellipse cx="428.5" cy="293.7" rx="2.4" ry="2.0" fill="#e4262c"/>
<ellipse cx="411" cy="299.4" rx="1.9" ry="1.5" fill="#e4262c"/>
<ellipse cx="434.8" cy="299.7" rx="1.9" ry="1.5" fill="#e4262c"/>
<ellipse cx="375" cy="319.7" rx="1.5" ry="1.5" fill="#e4262c"/>
<ellipse cx="422.4" cy="380.7" rx="2" ry="2" fill="#e4262c"/>
<ellipse cx="460.5" cy="380.7" rx="2" ry="2" fill="#e4262c"/>
<ellipse cx="463.5" cy="325.2" rx="2.6" ry="2.6" fill="#e4262c"/>
<ellipse cx="480.7" cy="351.7" rx="1.8" ry="1.8" fill="#e4262c"/>
<ellipse cx="486.8" cy="347.1" rx="1.8" ry="2.0" fill="#e4262c"/>
<ellipse cx="477.5" cy="343.5" rx="1.4" ry="1.4" fill="#e4262c"/>
<ellipse cx="470.5" cy="386" rx="1.4" ry="1.4" fill="#e4262c"/>
<circle cx="469.7" cy="320.5" r="4.2" fill="#dc2a30" opacity="0.9"/>
<path d="M552.5 344.2C552.2 342.5 552.6 340.8 553.2 339.4C553.8 338.0 554.5 336.9 555.9 336.0C557.3 335.1 560.1 334.9 561.4 333.9C562.6 332.9 562.3 330.6 563.4 329.8C564.5 329.0 566.6 329.0 568.2 329.1C569.8 329.2 571.9 330.9 573.0 330.5C574.1 330.1 574.9 327.8 575.1 326.4C575.3 325.0 574.1 323.5 574.4 322.3C574.7 321.1 576.1 319.8 577.1 319.3C578.1 318.8 579.5 318.8 580.5 319.3C581.5 319.8 582.9 321.1 583.3 322.3C583.6 323.5 582.1 325.4 582.6 326.4C583.1 327.4 584.5 327.9 586.0 328.4C587.5 328.8 589.7 328.9 591.4 329.1C593.1 329.3 594.9 330.2 596.2 329.8C597.5 329.4 598.8 327.6 599.0 326.4C599.2 325.1 597.6 323.8 597.6 322.3C597.6 320.8 598.1 318.5 599.0 317.5C599.9 316.5 601.7 316.1 603.1 316.1C604.5 316.1 606.2 316.6 607.2 317.5C608.2 318.4 609.1 320.1 609.2 321.6C609.3 323.1 607.1 325.1 607.8 326.4C608.5 327.6 611.7 328.4 613.3 329.1C614.9 329.8 615.9 329.4 617.4 330.5C618.9 331.6 621.2 333.9 622.2 336.0C623.2 338.1 623.6 340.5 623.6 342.8C623.6 345.1 623.2 347.9 622.2 349.6C621.2 351.3 619.1 352.2 617.4 353.0C615.7 353.8 613.3 353.4 611.9 354.4C610.5 355.4 610.2 358.2 609.2 359.2C608.2 360.2 606.8 360.9 605.8 360.5C604.8 360.1 604.4 358.1 603.1 357.1C601.9 356.1 600.2 355.1 598.3 354.4C596.3 353.7 593.7 353.0 591.4 353.0C589.1 353.0 586.0 353.4 584.6 354.4C583.2 355.4 584.1 358.1 583.3 359.2C582.5 360.3 580.9 361.2 579.8 361.2C578.6 361.2 577.2 360.1 576.4 359.2C575.6 358.3 576.0 356.6 575.1 355.8C574.2 355.0 572.6 355.0 571.0 354.4C569.4 353.8 567.3 353.0 565.5 352.4C563.7 351.8 561.7 351.5 560.0 351.0C558.3 350.5 556.5 350.7 555.2 349.6C554.0 348.5 552.8 345.9 552.5 344.2Z" fill="#e43c42" opacity="1" stroke="#c42c34" stroke-width="0.8" stroke-opacity="0.7" />
<clipPath id="lc5"><path d="M552.5 344.2C552.2 342.5 552.6 340.8 553.2 339.4C553.8 338.0 554.5 336.9 555.9 336.0C557.3 335.1 560.1 334.9 561.4 333.9C562.6 332.9 562.3 330.6 563.4 329.8C564.5 329.0 566.6 329.0 568.2 329.1C569.8 329.2 571.9 330.9 573.0 330.5C574.1 330.1 574.9 327.8 575.1 326.4C575.3 325.0 574.1 323.5 574.4 322.3C574.7 321.1 576.1 319.8 577.1 319.3C578.1 318.8 579.5 318.8 580.5 319.3C581.5 319.8 582.9 321.1 583.3 322.3C583.6 323.5 582.1 325.4 582.6 326.4C583.1 327.4 584.5 327.9 586.0 328.4C587.5 328.8 589.7 328.9 591.4 329.1C593.1 329.3 594.9 330.2 596.2 329.8C597.5 329.4 598.8 327.6 599.0 326.4C599.2 325.1 597.6 323.8 597.6 322.3C597.6 320.8 598.1 318.5 599.0 317.5C599.9 316.5 601.7 316.1 603.1 316.1C604.5 316.1 606.2 316.6 607.2 317.5C608.2 318.4 609.1 320.1 609.2 321.6C609.3 323.1 607.1 325.1 607.8 326.4C608.5 327.6 611.7 328.4 613.3 329.1C614.9 329.8 615.9 329.4 617.4 330.5C618.9 331.6 621.2 333.9 622.2 336.0C623.2 338.1 623.6 340.5 623.6 342.8C623.6 345.1 623.2 347.9 622.2 349.6C621.2 351.3 619.1 352.2 617.4 353.0C615.7 353.8 613.3 353.4 611.9 354.4C610.5 355.4 610.2 358.2 609.2 359.2C608.2 360.2 606.8 360.9 605.8 360.5C604.8 360.1 604.4 358.1 603.1 357.1C601.9 356.1 600.2 355.1 598.3 354.4C596.3 353.7 593.7 353.0 591.4 353.0C589.1 353.0 586.0 353.4 584.6 354.4C583.2 355.4 584.1 358.1 583.3 359.2C582.5 360.3 580.9 361.2 579.8 361.2C578.6 361.2 577.2 360.1 576.4 359.2C575.6 358.3 576.0 356.6 575.1 355.8C574.2 355.0 572.6 355.0 571.0 354.4C569.4 353.8 567.3 353.0 565.5 352.4C563.7 351.8 561.7 351.5 560.0 351.0C558.3 350.5 556.5 350.7 555.2 349.6C554.0 348.5 552.8 345.9 552.5 344.2Z"/></clipPath>
<g clip-path="url(#lc5)" fill="#e8454b" stroke="#bc2a32" stroke-width="0.7" stroke-opacity="0.55"><circle cx="563" cy="337" r="6"/><circle cx="575" cy="337" r="6"/><circle cx="588" cy="336" r="6.5"/><circle cx="601" cy="337" r="6"/><circle cx="613" cy="337" r="6"/><circle cx="562" cy="348" r="5"/><circle cx="576" cy="349" r="5"/><circle cx="590" cy="349" r="5.5"/><circle cx="604" cy="349" r="5"/><circle cx="616" cy="347" r="5"/><circle cx="578.5" cy="322.5" r="4.5"/><circle cx="603.5" cy="320.5" r="5.5"/><circle cx="556" cy="343" r="4.5"/><circle cx="620" cy="342" r="4.5"/></g>
<line x1="562.40" y1="341.00" x2="558.30" y2="334.20" stroke="#9e7e9e" stroke-width="1.75"/>
<line x1="558.30" y1="334.20" x2="554.20" y2="327.40" stroke="#d8d816" stroke-width="1.75"/>
<line x1="587.50" y1="341.00" x2="583.25" y2="334.20" stroke="#9e7e9e" stroke-width="1.75"/>
<line x1="583.25" y1="334.20" x2="579.00" y2="327.40" stroke="#d8d816" stroke-width="1.75"/>
<line x1="612.50" y1="341.00" x2="608.20" y2="334.20" stroke="#9e7e9e" stroke-width="1.75"/>
<line x1="608.20" y1="334.20" x2="603.90" y2="327.40" stroke="#d8d816" stroke-width="1.75"/>
<line x1="562.40" y1="341.00" x2="558.30" y2="348.20" stroke="#9e7e9e" stroke-width="1.75"/>
<line x1="558.30" y1="348.20" x2="554.20" y2="355.40" stroke="#dc8c10" stroke-width="1.75"/>
<line x1="587.50" y1="341.00" x2="583.25" y2="348.20" stroke="#9e7e9e" stroke-width="1.75"/>
<line x1="583.25" y1="348.20" x2="579.00" y2="355.40" stroke="#dc8c10" stroke-width="1.75"/>
<line x1="612.50" y1="341.00" x2="608.20" y2="348.20" stroke="#9e7e9e" stroke-width="1.75"/>
<line x1="608.20" y1="348.20" x2="603.90" y2="355.40" stroke="#dc8c10" stroke-width="1.75"/>
<circle cx="562.4" cy="341.0" r="5.0" fill="url(#gMo)"/>
<circle cx="561.6" cy="341.3" r="3.0" fill="#c8506a" opacity="0.7" stroke="#a83a52" stroke-width="0.7" stroke-opacity="0.6"/>
<circle cx="587.5" cy="341.0" r="5.0" fill="url(#gMo)"/>
<circle cx="586.7" cy="341.3" r="3.0" fill="#c8506a" opacity="0.7" stroke="#a83a52" stroke-width="0.7" stroke-opacity="0.6"/>
<circle cx="612.5" cy="341.0" r="5.0" fill="url(#gMo)"/>
<circle cx="611.7" cy="341.3" r="3.0" fill="#c8506a" opacity="0.7" stroke="#a83a52" stroke-width="0.7" stroke-opacity="0.6"/>
<circle cx="554.2" cy="327.4" r="3.8" fill="url(#gS)"/>
<circle cx="579.0" cy="327.4" r="3.8" fill="url(#gS)"/>
<circle cx="603.9" cy="327.4" r="3.8" fill="url(#gS)"/>
<circle cx="628.7" cy="327.4" r="3.8" fill="url(#gS)"/>
<circle cx="554.2" cy="355.4" r="3.8" fill="url(#gB)"/>
<circle cx="579.0" cy="355.4" r="3.8" fill="url(#gB)"/>
<circle cx="603.9" cy="355.4" r="3.8" fill="url(#gB)"/>
<circle cx="628.7" cy="355.4" r="3.8" fill="url(#gB)"/>
<ellipse cx="553.2" cy="321.6" rx="1.5" ry="1.5" fill="#e4262c"/>
<ellipse cx="532.3" cy="344.8" rx="1.3" ry="1.6" fill="#e4262c"/>
<ellipse cx="642.2" cy="340.5" rx="1.3" ry="1.8" fill="#e4262c"/>
<text x="405.0" y="11.8" font-size="11.4" text-anchor="start" fill="#1a1a1a" >(Top view)</text>
<text x="568.4" y="12.0" font-size="11.4" text-anchor="start" fill="#1a1a1a" >(Side view)</text>
<text x="568" y="43.8" font-size="11" fill="#1a1a1a">V<tspan font-size="7.5" dy="3.5">S</tspan><tspan dy="-3.5"> 2</tspan><tspan font-size="7.5" dy="-4">nd</tspan><tspan dy="4"> state</tspan></text>
<text x="566.0" y="175.2" font-size="11.2" fill="#1a1a1a">V<tspan font-size="7.5" dy="3.5">S2</tspan><tspan dy="-3.5"> 2</tspan><tspan font-size="7.5" dy="-4">nd</tspan><tspan dy="4"> state</tspan></text>
<text x="563.4" y="305.8" font-size="11.2" fill="#1a1a1a">V<tspan font-size="7.5" dy="3.5">S</tspan><tspan dy="-3.5">V</tspan><tspan font-size="7.5" dy="3.5">S</tspan><tspan dy="-3.5"> 1</tspan><tspan font-size="7.5" dy="-4">st</tspan><tspan dy="4"> state</tspan></text>
<rect x="533.3" y="375.9" width="147.2" height="21.3" fill="#fff" stroke="#b4b4b4" stroke-width="1"/>
<circle cx="541.3" cy="386.7" r="5.3" fill="url(#gMo)"/>
<text x="548.8" y="390.4" font-size="11.2" text-anchor="start" fill="#1a1a1a" >Mo</text>
<circle cx="577.6" cy="386.7" r="3.6" fill="url(#gS)"/>
<text x="584.6" y="390.4" font-size="11.0" text-anchor="start" fill="#1a1a1a" >Top S</text>
<circle cx="625.0" cy="386.7" r="3.8" fill="url(#gB)"/>
<text x="630.6" y="390.4" font-size="11.2" text-anchor="start" fill="#1a1a1a" >Bottom S</text>
</svg>
</body></html>
